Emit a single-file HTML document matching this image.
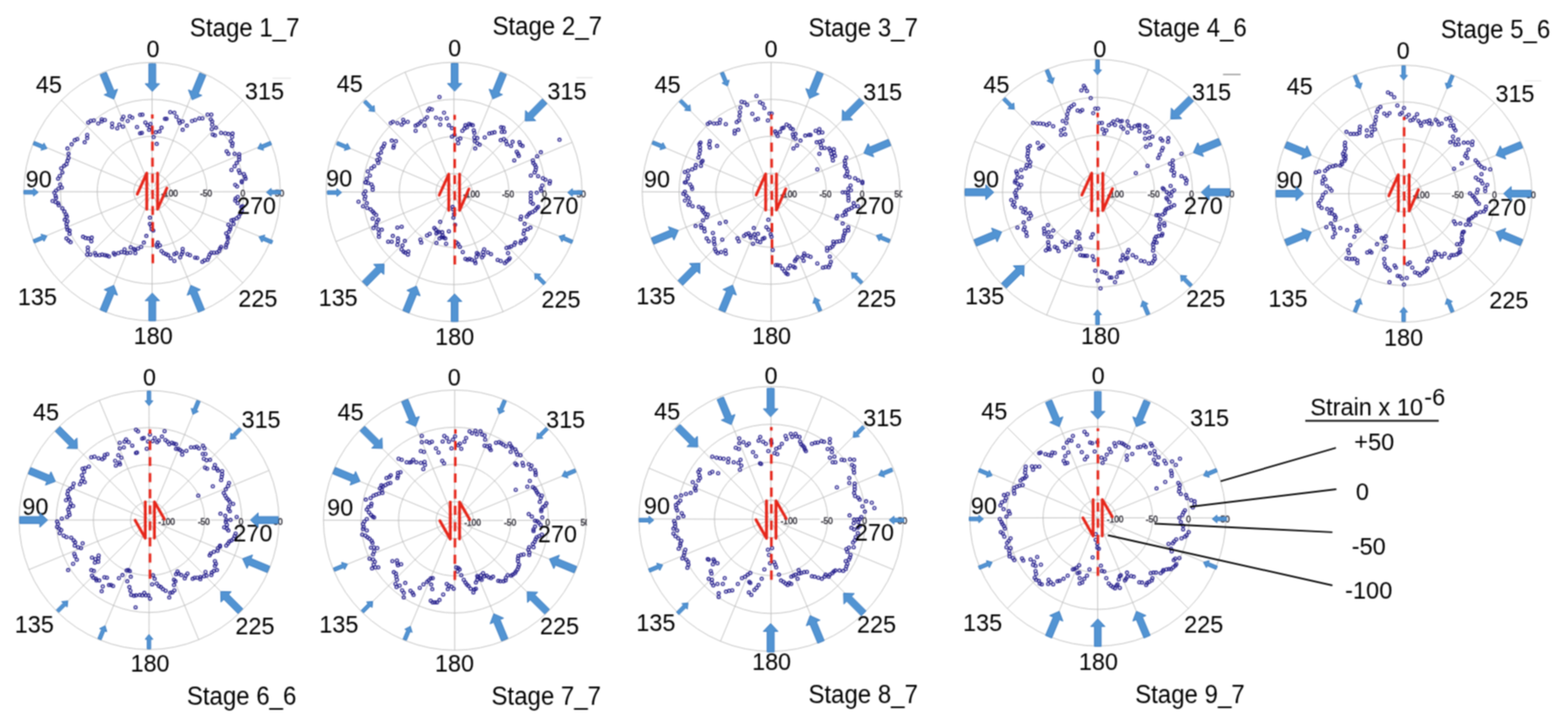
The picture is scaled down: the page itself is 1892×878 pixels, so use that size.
<!DOCTYPE html>
<html lang="en"><head><meta charset="utf-8"><title>Strain polar plots by stage</title>
<style>
html,body{margin:0;padding:0;background:#fff}
body{width:1892px;height:878px;overflow:hidden;font-family:"Liberation Sans", Arial, Helvetica, sans-serif}
svg{display:block;filter:url(#soft)}
</style></head><body>
<svg width="1892" height="878" viewBox="0 0 1892 878"><defs><filter id="soft" x="0" y="0" width="100%" height="100%" color-interpolation-filters="sRGB"><feConvolveMatrix order="3" kernelMatrix="1 2 1 2 4 2 1 2 1" divisor="16" edgeMode="duplicate" preserveAlpha="true"/></filter></defs><rect width="1892" height="878" fill="#fff"/><g id="plot1"><g fill="none" stroke="#bababa" stroke-width="0.9"><ellipse cx="183.5" cy="231.1" rx="22" ry="22.1"/><ellipse cx="183.5" cy="231.1" rx="66.2" ry="66.7"/><ellipse cx="183.5" cy="231.1" rx="110.5" ry="111.2"/><ellipse cx="183.5" cy="231.1" rx="154.7" ry="155.8"/><path d="M183.5 228.4L183.5 75.2M186.2 224.9L242.7 87.1M185.6 229.3L292.9 120.9M190 228.7L326.4 171.4M186.5 231.4L338.2 231.1M190 234.1L326.4 290.7M185.6 233.5L292.9 341.2M186.2 237.9L242.7 375M183.5 234.4L183.5 386.9M180.8 237.9L124.3 375M181.4 233.5L74.1 341.2M177 234.1L40.6 290.7M180.5 231.4L28.8 231.1M177 228.7L40.6 171.4M181.4 229.3L74.1 120.9M180.8 224.9L124.3 87.1"/><circle cx="183.5" cy="231.4" r="2" fill="#c4c4c4" stroke="none"/></g><g font-family='"Liberation Sans", Arial, Helvetica, sans-serif' font-size="10" fill="#1c1a24" stroke="#1c1a24" stroke-width="0.4" text-anchor="middle"><rect x="193.5" y="228.9" width="22" height="8" fill="#fff" stroke="none"/><text x="204.5" y="237">-100</text><rect x="240.5" y="228.9" width="16.5" height="8" fill="#fff" stroke="none"/><text x="248.7" y="237">-50</text><rect x="289" y="228.9" width="8" height="8" fill="#fff" stroke="none"/><text x="293" y="237">0</text><text x="337.2" y="237">50</text></g><g fill="none" stroke="#241e8c" stroke-width="1.3"><circle cx="70.1" cy="215.4" r="1.85"/><circle cx="72.1" cy="212.2" r="1.85"/><circle cx="75.2" cy="207.9" r="1.85"/><circle cx="73.9" cy="202.9" r="1.85"/><circle cx="77.4" cy="200.1" r="1.85"/><circle cx="80.2" cy="197.9" r="1.85"/><circle cx="81.4" cy="194.1" r="1.85"/><circle cx="82.7" cy="190.4" r="1.85"/><circle cx="82.7" cy="185.4" r="1.85"/><circle cx="81.4" cy="179.1" r="1.85"/><circle cx="86.4" cy="174.1" r="1.85"/><circle cx="90.2" cy="169.1" r="1.85"/><circle cx="93.2" cy="167.8" r="1.85"/><circle cx="102.2" cy="171.6" r="1.85"/><circle cx="105.2" cy="166.6" r="1.85"/><circle cx="105.2" cy="162.8" r="1.85"/><circle cx="106.5" cy="147.8" r="1.85"/><circle cx="109.5" cy="145.8" r="1.85"/><circle cx="113.2" cy="145.3" r="1.85"/><circle cx="118.5" cy="149" r="1.85"/><circle cx="122.7" cy="146.5" r="1.85"/><circle cx="122.7" cy="144" r="1.85"/><circle cx="126.5" cy="144.8" r="1.85"/><circle cx="135.3" cy="149" r="1.85"/><circle cx="135.3" cy="153.3" r="1.85"/><circle cx="141.5" cy="154.8" r="1.85"/><circle cx="144" cy="150.3" r="1.85"/><circle cx="148.3" cy="152.8" r="1.85"/><circle cx="147.3" cy="144" r="1.85"/><circle cx="149" cy="140.8" r="1.85"/><circle cx="154.1" cy="146" r="1.85"/><circle cx="156.6" cy="140.3" r="1.85"/><circle cx="159.6" cy="142" r="1.85"/><circle cx="165.3" cy="153.3" r="1.85"/><circle cx="169.1" cy="138.5" r="1.85"/><circle cx="171.8" cy="138.3" r="1.85"/><circle cx="169.1" cy="160.8" r="1.85"/><circle cx="171.1" cy="160.3" r="1.85"/><circle cx="175.4" cy="147.8" r="1.85"/><circle cx="177.9" cy="151.1" r="1.85"/><circle cx="181.6" cy="149.5" r="1.85"/><circle cx="180.9" cy="153.5" r="1.85"/><circle cx="179.9" cy="156.6" r="1.85"/><circle cx="185.4" cy="165.3" r="1.85"/><circle cx="189.1" cy="173.6" r="1.85"/><circle cx="187.9" cy="159.6" r="1.85"/><circle cx="192.4" cy="158.6" r="1.85"/><circle cx="194.9" cy="154.1" r="1.85"/><circle cx="199.1" cy="143.3" r="1.85"/><circle cx="200.9" cy="143.3" r="1.85"/><circle cx="205.4" cy="135.3" r="1.85"/><circle cx="210.4" cy="136" r="1.85"/><circle cx="212.9" cy="140.8" r="1.85"/><circle cx="215.9" cy="145.3" r="1.85"/><circle cx="216.9" cy="148.3" r="1.85"/><circle cx="220.4" cy="146.5" r="1.85"/><circle cx="225.5" cy="151.6" r="1.85"/><circle cx="220.4" cy="156.6" r="1.85"/><circle cx="231.7" cy="146" r="1.85"/><circle cx="235.5" cy="144.8" r="1.85"/><circle cx="240.5" cy="142.8" r="1.85"/><circle cx="244.2" cy="142.8" r="1.85"/><circle cx="250.5" cy="138.3" r="1.85"/><circle cx="255" cy="138.3" r="1.85"/><circle cx="254.3" cy="144" r="1.85"/><circle cx="256" cy="146.5" r="1.85"/><circle cx="256" cy="150.3" r="1.85"/><circle cx="260.5" cy="154.1" r="1.85"/><circle cx="255.5" cy="155.8" r="1.85"/><circle cx="256.8" cy="162.3" r="1.85"/><circle cx="259.3" cy="163.3" r="1.85"/><circle cx="266.8" cy="160.3" r="1.85"/><circle cx="271.8" cy="160.8" r="1.85"/><circle cx="275.6" cy="161.6" r="1.85"/><circle cx="280.6" cy="161.1" r="1.85"/><circle cx="280.1" cy="165.3" r="1.85"/><circle cx="278.6" cy="170.3" r="1.85"/><circle cx="280.6" cy="172.8" r="1.85"/><circle cx="280.1" cy="176.1" r="1.85"/><circle cx="273.5" cy="182.4" r="1.85"/><circle cx="275.6" cy="185.4" r="1.85"/><circle cx="283.1" cy="185.4" r="1.85"/><circle cx="288.6" cy="185.9" r="1.85"/><circle cx="288.6" cy="189.1" r="1.85"/><circle cx="288.6" cy="192.4" r="1.85"/><circle cx="285.6" cy="196.6" r="1.85"/><circle cx="283.1" cy="200.4" r="1.85"/><circle cx="279.3" cy="204.9" r="1.85"/><circle cx="288.1" cy="205.4" r="1.85"/><circle cx="289.3" cy="208.4" r="1.85"/><circle cx="294.3" cy="209.9" r="1.85"/><circle cx="295.6" cy="212.9" r="1.85"/><circle cx="296.3" cy="215.4" r="1.85"/><circle cx="291.8" cy="218.4" r="1.85"/><circle cx="72.6" cy="222.5" r="1.85"/><circle cx="74.6" cy="226.3" r="1.85"/><circle cx="70.6" cy="227.5" r="1.85"/><circle cx="67.6" cy="230" r="1.85"/><circle cx="65.6" cy="232.5" r="1.85"/><circle cx="67.1" cy="236.3" r="1.85"/><circle cx="67.6" cy="238.8" r="1.85"/><circle cx="63.4" cy="242.5" r="1.85"/><circle cx="67.2" cy="243.7" r="1.85"/><circle cx="70.1" cy="245.1" r="1.85"/><circle cx="70.9" cy="247.6" r="1.85"/><circle cx="75.2" cy="251.3" r="1.85"/><circle cx="77.7" cy="255.1" r="1.85"/><circle cx="79.7" cy="258.8" r="1.85"/><circle cx="80.7" cy="261.3" r="1.85"/><circle cx="78.2" cy="265.1" r="1.85"/><circle cx="81.4" cy="266.8" r="1.85"/><circle cx="80.2" cy="270.1" r="1.85"/><circle cx="80.7" cy="273.9" r="1.85"/><circle cx="81.4" cy="277.1" r="1.85"/><circle cx="83.9" cy="278.1" r="1.85"/><circle cx="83.9" cy="282.1" r="1.85"/><circle cx="80.2" cy="287.6" r="1.85"/><circle cx="82.7" cy="290.1" r="1.85"/><circle cx="85.2" cy="292.1" r="1.85"/><circle cx="100.2" cy="285.6" r="1.85"/><circle cx="103.2" cy="287.1" r="1.85"/><circle cx="106.5" cy="287.6" r="1.85"/><circle cx="110.7" cy="286.6" r="1.85"/><circle cx="110.2" cy="290.9" r="1.85"/><circle cx="106" cy="298.4" r="1.85"/><circle cx="106" cy="302.2" r="1.85"/><circle cx="105.2" cy="306.9" r="1.85"/><circle cx="109" cy="306.9" r="1.85"/><circle cx="114.7" cy="305.2" r="1.85"/><circle cx="115.7" cy="307.7" r="1.85"/><circle cx="120.2" cy="307.7" r="1.85"/><circle cx="123.2" cy="306.9" r="1.85"/><circle cx="126.5" cy="307.7" r="1.85"/><circle cx="129" cy="308.2" r="1.85"/><circle cx="131.5" cy="309.2" r="1.85"/><circle cx="137.3" cy="305.2" r="1.85"/><circle cx="138.5" cy="306.9" r="1.85"/><circle cx="142.8" cy="305.2" r="1.85"/><circle cx="146.5" cy="303.9" r="1.85"/><circle cx="150.3" cy="300.7" r="1.85"/><circle cx="150.3" cy="304.4" r="1.85"/><circle cx="153.3" cy="305.2" r="1.85"/><circle cx="157.3" cy="304.7" r="1.85"/><circle cx="157.8" cy="298.2" r="1.85"/><circle cx="161.6" cy="300.2" r="1.85"/><circle cx="163.3" cy="305.2" r="1.85"/><circle cx="162.8" cy="301.4" r="1.85"/><circle cx="166.6" cy="299.7" r="1.85"/><circle cx="170.3" cy="297.7" r="1.85"/><circle cx="173.6" cy="292.6" r="1.85"/><circle cx="176.6" cy="284.6" r="1.85"/><circle cx="180.9" cy="262.6" r="1.85"/><circle cx="180.9" cy="270.1" r="1.85"/><circle cx="182.4" cy="272.6" r="1.85"/><circle cx="182.9" cy="276.4" r="1.85"/><circle cx="184.9" cy="278.1" r="1.85"/><circle cx="190.4" cy="292.6" r="1.85"/><circle cx="189.1" cy="295.2" r="1.85"/><circle cx="192.9" cy="295.9" r="1.85"/><circle cx="189.9" cy="297.7" r="1.85"/><circle cx="194.9" cy="302.7" r="1.85"/><circle cx="197.4" cy="305.2" r="1.85"/><circle cx="200.4" cy="306.4" r="1.85"/><circle cx="202.9" cy="307.7" r="1.85"/><circle cx="205.9" cy="311.4" r="1.85"/><circle cx="210.4" cy="314.7" r="1.85"/><circle cx="210.4" cy="306.4" r="1.85"/><circle cx="212.9" cy="305.2" r="1.85"/><circle cx="217.4" cy="310.2" r="1.85"/><circle cx="219.2" cy="306.4" r="1.85"/><circle cx="220.4" cy="303.9" r="1.85"/><circle cx="220.4" cy="300.2" r="1.85"/><circle cx="226.2" cy="306.4" r="1.85"/><circle cx="229.2" cy="307.7" r="1.85"/><circle cx="235.5" cy="310.7" r="1.85"/><circle cx="238" cy="310.9" r="1.85"/><circle cx="244.2" cy="315.7" r="1.85"/><circle cx="246.7" cy="313.9" r="1.85"/><circle cx="250.5" cy="313.2" r="1.85"/><circle cx="251.8" cy="310.2" r="1.85"/><circle cx="253" cy="306.9" r="1.85"/><circle cx="255" cy="304.7" r="1.85"/><circle cx="258" cy="304.7" r="1.85"/><circle cx="261.8" cy="304.4" r="1.85"/><circle cx="264.3" cy="302.7" r="1.85"/><circle cx="265.5" cy="299.7" r="1.85"/><circle cx="266.8" cy="297.7" r="1.85"/><circle cx="272.5" cy="298.2" r="1.85"/><circle cx="273" cy="295.2" r="1.85"/><circle cx="274.3" cy="292.6" r="1.85"/><circle cx="275.1" cy="287.6" r="1.85"/><circle cx="274.8" cy="285.6" r="1.85"/><circle cx="273" cy="281.4" r="1.85"/><circle cx="276.1" cy="279.6" r="1.85"/><circle cx="277.6" cy="276.4" r="1.85"/><circle cx="275.6" cy="270.9" r="1.85"/><circle cx="278.1" cy="273.9" r="1.85"/><circle cx="281.8" cy="270.1" r="1.85"/><circle cx="279.3" cy="265.8" r="1.85"/><circle cx="281.8" cy="265.1" r="1.85"/><circle cx="285.6" cy="263.3" r="1.85"/><circle cx="288.1" cy="261.3" r="1.85"/><circle cx="290.1" cy="257.6" r="1.85"/><circle cx="291.8" cy="253.8" r="1.85"/><circle cx="291.1" cy="249.6" r="1.85"/><circle cx="292.6" cy="248.8" r="1.85"/><circle cx="286.8" cy="245.1" r="1.85"/><circle cx="283.8" cy="242" r="1.85"/><circle cx="284.3" cy="239.5" r="1.85"/><circle cx="286.8" cy="237.5" r="1.85"/><circle cx="283.8" cy="223" r="1.85"/><circle cx="286.1" cy="225" r="1.85"/><circle cx="291.8" cy="220" r="1.85"/></g><path d="M165.6 234.2L177.1 208.7L177.1 252.4M190.1 208.7L190.1 252.4L201.4 226.7" fill="none" stroke="#e6261a" stroke-width="3.4" stroke-linejoin="round" stroke-linecap="round"/><path d="M184.4 317.5L183.8 138" fill="none" stroke="#e6261a" stroke-width="3.1" stroke-dasharray="10.9 8.5"/><g font-family='"Liberation Sans", Arial, Helvetica, sans-serif' fill="#000" stroke="none" text-anchor="middle"><text transform="translate(295.2 43.8) scale(1 1.05)" font-size="29.0">Stage 1_7</text><text transform="translate(184.5 69.4) scale(1 1.06)" font-size="28.3">0</text><text transform="translate(59.1 111.5) scale(1 1.06)" font-size="28.3">45</text><text transform="translate(319.1 120.2) scale(1 1.06)" font-size="28.3">315</text><text transform="translate(46.7 225.5) scale(1 1.06)" font-size="28.3">90</text><text transform="translate(309.5 258) scale(1 1.06)" font-size="28.3">270</text><text transform="translate(45.1 367.8) scale(1 1.06)" font-size="28.3">135</text><text transform="translate(311.2 369.8) scale(1 1.06)" font-size="28.3">225</text><text transform="translate(184.9 414.9) scale(1 1.06)" font-size="28.3">180</text></g><g fill="#5294d3" stroke="#3a7bc0" stroke-width="1"><polygon points="248.4,91 239.2,113.3 243.5,115.1 231.9,120.3 227.4,108.4 231.7,110.2 240.9,87.9"/><polygon points="187.9,76.9 187.9,101 192.5,101 183.8,110.2 175.1,101 179.7,101 179.7,76.9"/><polygon points="128.3,87.1 137.5,109.4 141.8,107.6 137.3,119.5 125.7,114.3 130,112.5 120.8,90.2"/><polygon points="120.8,373.5 130,351.2 125.7,349.4 137.3,344.2 141.8,356.1 137.5,354.3 128.3,376.6"/><polygon points="179.7,386.9 179.7,362.7 175.1,362.7 183.8,353.5 192.5,362.7 187.9,362.7 187.9,386.9"/><polygon points="239.3,376.6 230.1,354.3 225.8,356.1 230.3,344.2 241.9,349.4 237.6,351.2 246.8,373.5"/><polygon points="41.5,170.6 52.1,175 53.1,172.6 56.6,179.1 49.5,181.2 50.5,178.9 39.9,174.5"/><polygon points="28.9,229.7 40.4,229.7 40.4,227.2 46.1,231.9 40.4,236.5 40.4,234 28.9,234"/><polygon points="39.9,289.2 50.5,284.8 49.5,282.5 56.6,284.6 53.1,291.1 52.1,288.7 41.5,293.1"/><polygon points="327.6,294.1 317,289.7 316,292.1 312.5,285.6 319.6,283.5 318.6,285.8 329.2,290.2"/><polygon points="338.7,234 327.2,234 327.2,236.5 321.5,231.9 327.2,227.2 327.2,229.7 338.7,229.7"/><polygon points="327.7,174.5 317.1,178.9 318.1,181.2 311,179.1 314.5,172.6 315.5,175 326.1,170.6"/></g></g><g id="plot2"><g fill="none" stroke="#bababa" stroke-width="0.9"><ellipse cx="547.9" cy="231.5" rx="21.9" ry="22.2"/><ellipse cx="547.9" cy="231.5" rx="66.1" ry="66.9"/><ellipse cx="547.9" cy="231.5" rx="110.2" ry="111.7"/><ellipse cx="547.9" cy="231.5" rx="154.4" ry="156.4"/><path d="M547.4 229.1L547.9 75.1M550.1 225.6L607 87M549.5 230L657.1 120.9M553.9 229.4L690.5 171.6M550.4 232.1L702.3 231.5M553.9 234.8L690.5 291.4M549.5 234.2L657.1 342.1M550.1 238.6L607 376M547.4 235.1L547.9 387.9M544.7 238.6L488.8 376M545.3 234.2L438.7 342.1M540.9 234.8L405.3 291.4M544.4 232.1L393.5 231.5M540.9 229.4L405.3 171.6M545.3 230L438.7 120.9M544.7 225.6L488.8 87"/><circle cx="547.4" cy="232.1" r="2" fill="#c4c4c4" stroke="none"/></g><g font-family='"Liberation Sans", Arial, Helvetica, sans-serif' font-size="10" fill="#1c1a24" stroke="#1c1a24" stroke-width="0.4" text-anchor="middle"><rect x="557.8" y="229.6" width="22" height="8" fill="#fff" stroke="none"/><text x="568.8" y="237.7">-100</text><rect x="604.7" y="229.6" width="16.5" height="8" fill="#fff" stroke="none"/><text x="613" y="237.7">-50</text><rect x="653.1" y="229.6" width="8" height="8" fill="#fff" stroke="none"/><text x="657.1" y="237.7">0</text><text x="701.3" y="237.7">50</text></g><g fill="none" stroke="#241e8c" stroke-width="1.3"><circle cx="440.9" cy="219.9" r="1.85"/><circle cx="442.6" cy="215.4" r="1.85"/><circle cx="446.4" cy="211.7" r="1.85"/><circle cx="443.9" cy="206.7" r="1.85"/><circle cx="448.2" cy="202.9" r="1.85"/><circle cx="451.4" cy="200.4" r="1.85"/><circle cx="456.4" cy="196.6" r="1.85"/><circle cx="455.2" cy="192.9" r="1.85"/><circle cx="458.2" cy="191.6" r="1.85"/><circle cx="456.4" cy="186.6" r="1.85"/><circle cx="459.7" cy="184.1" r="1.85"/><circle cx="460.7" cy="179.1" r="1.85"/><circle cx="462.7" cy="176.6" r="1.85"/><circle cx="463.9" cy="173.3" r="1.85"/><circle cx="472.7" cy="169.6" r="1.85"/><circle cx="477.7" cy="170.3" r="1.85"/><circle cx="475.2" cy="175.4" r="1.85"/><circle cx="474.7" cy="177.9" r="1.85"/><circle cx="471.5" cy="148.5" r="1.85"/><circle cx="474" cy="147" r="1.85"/><circle cx="479.5" cy="148.5" r="1.85"/><circle cx="484.7" cy="150.3" r="1.85"/><circle cx="487.2" cy="147.8" r="1.85"/><circle cx="486.5" cy="144.5" r="1.85"/><circle cx="492" cy="147" r="1.85"/><circle cx="501.5" cy="151.6" r="1.85"/><circle cx="504" cy="150.3" r="1.85"/><circle cx="506.5" cy="148.5" r="1.85"/><circle cx="508.3" cy="146.5" r="1.85"/><circle cx="501.5" cy="157.8" r="1.85"/><circle cx="512.3" cy="151.6" r="1.85"/><circle cx="512.8" cy="144" r="1.85"/><circle cx="515.3" cy="141.5" r="1.85"/><circle cx="516.5" cy="133.5" r="1.85"/><circle cx="518.3" cy="131" r="1.85"/><circle cx="521.1" cy="132" r="1.85"/><circle cx="530.3" cy="117" r="1.85"/><circle cx="526.1" cy="142" r="1.85"/><circle cx="531.6" cy="143.5" r="1.85"/><circle cx="531.1" cy="150.3" r="1.85"/><circle cx="535.8" cy="136" r="1.85"/><circle cx="539.1" cy="142.8" r="1.85"/><circle cx="541.6" cy="151.1" r="1.85"/><circle cx="545.4" cy="154.6" r="1.85"/><circle cx="545.4" cy="164.8" r="1.85"/><circle cx="548.4" cy="162.8" r="1.85"/><circle cx="552.1" cy="168.3" r="1.85"/><circle cx="555.4" cy="167.1" r="1.85"/><circle cx="552.9" cy="172.8" r="1.85"/><circle cx="557.9" cy="157.8" r="1.85"/><circle cx="560.4" cy="155.1" r="1.85"/><circle cx="561.6" cy="151.1" r="1.85"/><circle cx="563.4" cy="153.6" r="1.85"/><circle cx="565.9" cy="149.5" r="1.85"/><circle cx="567.9" cy="150.3" r="1.85"/><circle cx="570.4" cy="151.1" r="1.85"/><circle cx="571.7" cy="157.3" r="1.85"/><circle cx="572.4" cy="160.3" r="1.85"/><circle cx="572.4" cy="165.8" r="1.85"/><circle cx="575.9" cy="166.6" r="1.85"/><circle cx="572.9" cy="170.3" r="1.85"/><circle cx="575.9" cy="172.8" r="1.85"/><circle cx="578.7" cy="174.6" r="1.85"/><circle cx="573.4" cy="179.1" r="1.85"/><circle cx="584.9" cy="165.8" r="1.85"/><circle cx="590.4" cy="161.1" r="1.85"/><circle cx="593.7" cy="160.3" r="1.85"/><circle cx="596.7" cy="159.6" r="1.85"/><circle cx="604.7" cy="153.6" r="1.85"/><circle cx="607.5" cy="154.1" r="1.85"/><circle cx="605.5" cy="159.1" r="1.85"/><circle cx="608.7" cy="159.1" r="1.85"/><circle cx="604.2" cy="169.1" r="1.85"/><circle cx="608" cy="167.8" r="1.85"/><circle cx="610.5" cy="170.3" r="1.85"/><circle cx="611.7" cy="174.1" r="1.85"/><circle cx="616.7" cy="176.1" r="1.85"/><circle cx="618.5" cy="171.1" r="1.85"/><circle cx="626.8" cy="171.6" r="1.85"/><circle cx="628" cy="174.6" r="1.85"/><circle cx="630.5" cy="176.1" r="1.85"/><circle cx="623.5" cy="182.9" r="1.85"/><circle cx="625" cy="185.4" r="1.85"/><circle cx="626" cy="187.9" r="1.85"/><circle cx="620.5" cy="193.4" r="1.85"/><circle cx="652.6" cy="183.6" r="1.85"/><circle cx="648.1" cy="188.4" r="1.85"/><circle cx="643" cy="193.4" r="1.85"/><circle cx="643.5" cy="196.6" r="1.85"/><circle cx="645.6" cy="199.1" r="1.85"/><circle cx="646.8" cy="201.7" r="1.85"/><circle cx="646.3" cy="204.9" r="1.85"/><circle cx="645.1" cy="207.9" r="1.85"/><circle cx="640.5" cy="211.7" r="1.85"/><circle cx="649.3" cy="212.4" r="1.85"/><circle cx="655.1" cy="214.9" r="1.85"/><circle cx="658.1" cy="216.7" r="1.85"/><circle cx="663.6" cy="218.4" r="1.85"/><circle cx="675.1" cy="168.6" r="1.85"/><circle cx="441.4" cy="220" r="1.85"/><circle cx="444.2" cy="220.7" r="1.85"/><circle cx="448.2" cy="222.5" r="1.85"/><circle cx="449.7" cy="225.5" r="1.85"/><circle cx="449.7" cy="228.8" r="1.85"/><circle cx="440.9" cy="230.8" r="1.85"/><circle cx="438.9" cy="233.8" r="1.85"/><circle cx="440.9" cy="237" r="1.85"/><circle cx="440.1" cy="240" r="1.85"/><circle cx="432.6" cy="243.3" r="1.85"/><circle cx="442.6" cy="245.1" r="1.85"/><circle cx="438.1" cy="248.8" r="1.85"/><circle cx="443.1" cy="250.8" r="1.85"/><circle cx="447.2" cy="252.6" r="1.85"/><circle cx="449.7" cy="255.1" r="1.85"/><circle cx="451.4" cy="257.1" r="1.85"/><circle cx="453.9" cy="259.3" r="1.85"/><circle cx="449.7" cy="263.8" r="1.85"/><circle cx="456.4" cy="265.1" r="1.85"/><circle cx="454.7" cy="267.6" r="1.85"/><circle cx="453.9" cy="271.4" r="1.85"/><circle cx="450.7" cy="275.1" r="1.85"/><circle cx="456.4" cy="276.4" r="1.85"/><circle cx="457.2" cy="281.4" r="1.85"/><circle cx="457.2" cy="285.6" r="1.85"/><circle cx="460.7" cy="277.1" r="1.85"/><circle cx="479.5" cy="274.4" r="1.85"/><circle cx="484.7" cy="273.4" r="1.85"/><circle cx="474" cy="284.6" r="1.85"/><circle cx="468.4" cy="291.4" r="1.85"/><circle cx="472.7" cy="291.4" r="1.85"/><circle cx="480.2" cy="287.6" r="1.85"/><circle cx="480.2" cy="290.9" r="1.85"/><circle cx="479.5" cy="295.2" r="1.85"/><circle cx="488.5" cy="290.6" r="1.85"/><circle cx="485.7" cy="295.9" r="1.85"/><circle cx="484.5" cy="300.7" r="1.85"/><circle cx="487" cy="303.4" r="1.85"/><circle cx="489" cy="304.7" r="1.85"/><circle cx="492.7" cy="303.2" r="1.85"/><circle cx="492.2" cy="306.9" r="1.85"/><circle cx="507.3" cy="288.9" r="1.85"/><circle cx="508.3" cy="292.6" r="1.85"/><circle cx="515.3" cy="283.9" r="1.85"/><circle cx="518.5" cy="281.9" r="1.85"/><circle cx="531.1" cy="267.6" r="1.85"/><circle cx="524.1" cy="275.1" r="1.85"/><circle cx="525.8" cy="277.1" r="1.85"/><circle cx="528.3" cy="279.4" r="1.85"/><circle cx="526.6" cy="281.4" r="1.85"/><circle cx="530.3" cy="280.1" r="1.85"/><circle cx="533.6" cy="280.1" r="1.85"/><circle cx="534.1" cy="283.9" r="1.85"/><circle cx="532.8" cy="285.9" r="1.85"/><circle cx="530.3" cy="287.6" r="1.85"/><circle cx="535.3" cy="286.4" r="1.85"/><circle cx="537.3" cy="287.6" r="1.85"/><circle cx="526.6" cy="293.1" r="1.85"/><circle cx="541.6" cy="278.9" r="1.85"/><circle cx="538.3" cy="293.9" r="1.85"/><circle cx="546.1" cy="249.6" r="1.85"/><circle cx="546.6" cy="252.6" r="1.85"/><circle cx="547.9" cy="258.1" r="1.85"/><circle cx="547.1" cy="262.6" r="1.85"/><circle cx="549.1" cy="270.9" r="1.85"/><circle cx="550.9" cy="292.6" r="1.85"/><circle cx="552.9" cy="294.6" r="1.85"/><circle cx="554.9" cy="297.7" r="1.85"/><circle cx="558.4" cy="303.9" r="1.85"/><circle cx="561.6" cy="312.2" r="1.85"/><circle cx="564.1" cy="313.2" r="1.85"/><circle cx="566.6" cy="312.2" r="1.85"/><circle cx="569.1" cy="313.2" r="1.85"/><circle cx="572.9" cy="314.7" r="1.85"/><circle cx="573.7" cy="317.2" r="1.85"/><circle cx="575.4" cy="305.2" r="1.85"/><circle cx="577.2" cy="306.4" r="1.85"/><circle cx="574.9" cy="309.7" r="1.85"/><circle cx="584.2" cy="300.7" r="1.85"/><circle cx="582.9" cy="303.9" r="1.85"/><circle cx="583.4" cy="307.7" r="1.85"/><circle cx="581.7" cy="310.2" r="1.85"/><circle cx="588.7" cy="304.4" r="1.85"/><circle cx="592.4" cy="306.4" r="1.85"/><circle cx="600.5" cy="313.4" r="1.85"/><circle cx="604.2" cy="314.7" r="1.85"/><circle cx="609.2" cy="317.2" r="1.85"/><circle cx="611.2" cy="315.2" r="1.85"/><circle cx="613.7" cy="313.2" r="1.85"/><circle cx="615" cy="311.4" r="1.85"/><circle cx="613" cy="305.2" r="1.85"/><circle cx="611.2" cy="298.9" r="1.85"/><circle cx="614.2" cy="298.2" r="1.85"/><circle cx="616.7" cy="297.2" r="1.85"/><circle cx="620.5" cy="295.2" r="1.85"/><circle cx="621.8" cy="292.6" r="1.85"/><circle cx="628" cy="293.1" r="1.85"/><circle cx="628.8" cy="290.6" r="1.85"/><circle cx="632.5" cy="289.6" r="1.85"/><circle cx="634.3" cy="287.6" r="1.85"/><circle cx="631.8" cy="281.9" r="1.85"/><circle cx="632.5" cy="278.1" r="1.85"/><circle cx="636.8" cy="276.4" r="1.85"/><circle cx="640" cy="274.6" r="1.85"/><circle cx="633" cy="270.1" r="1.85"/><circle cx="628" cy="264.6" r="1.85"/><circle cx="628.8" cy="261.3" r="1.85"/><circle cx="635.5" cy="261.3" r="1.85"/><circle cx="637.5" cy="258.8" r="1.85"/><circle cx="639.3" cy="257.1" r="1.85"/><circle cx="642.5" cy="255.8" r="1.85"/><circle cx="645.6" cy="253.8" r="1.85"/><circle cx="647.6" cy="251.3" r="1.85"/><circle cx="649.3" cy="249.6" r="1.85"/><circle cx="643" cy="245.8" r="1.85"/><circle cx="640.5" cy="243.8" r="1.85"/><circle cx="640.5" cy="240" r="1.85"/><circle cx="640.5" cy="236.3" r="1.85"/><circle cx="640.5" cy="232.5" r="1.85"/><circle cx="647.6" cy="232.5" r="1.85"/><circle cx="653.1" cy="230" r="1.85"/><circle cx="652.6" cy="227.5" r="1.85"/><circle cx="654.3" cy="223.8" r="1.85"/><circle cx="663.1" cy="221.3" r="1.85"/></g><path d="M530 235.4L541.5 210L541.5 253.7M554.5 210L554.5 253.7L565.8 227.9" fill="none" stroke="#e6261a" stroke-width="3.4" stroke-linejoin="round" stroke-linecap="round"/><path d="M548.8 319.1L548.6 138.5" fill="none" stroke="#e6261a" stroke-width="3.1" stroke-dasharray="10.9 8.5"/><g font-family='"Liberation Sans", Arial, Helvetica, sans-serif' fill="#000" stroke="none" text-anchor="middle"><text transform="translate(660.3 42) scale(1 1.05)" font-size="29.0">Stage 2_7</text><text transform="translate(548.7 68.1) scale(1 1.06)" font-size="28.3">0</text><text transform="translate(422 110.7) scale(1 1.06)" font-size="28.3">45</text><text transform="translate(684.1 119.7) scale(1 1.06)" font-size="28.3">315</text><text transform="translate(409.2 225) scale(1 1.06)" font-size="28.3">90</text><text transform="translate(674.4 258) scale(1 1.06)" font-size="28.3">270</text><text transform="translate(408 369) scale(1 1.06)" font-size="28.3">135</text><text transform="translate(676.9 371) scale(1 1.06)" font-size="28.3">225</text><text transform="translate(548.7 415.9) scale(1 1.06)" font-size="28.3">180</text></g><g fill="#5294d3" stroke="#3a7bc0" stroke-width="1"><polygon points="660.1,125 643.1,142.2 646.4,145.5 633.8,145.9 634.1,133.3 637.4,136.5 654.3,119.3"/><polygon points="611.1,90 602,112.3 606.3,114.1 594.7,119.3 590.2,107.5 594.5,109.3 603.6,86.9"/><polygon points="552.7,76.6 552.7,100.8 557.3,100.8 548.6,110 539.9,100.8 544.5,100.8 544.5,76.6"/><polygon points="437.1,339.4 454.1,322.2 450.8,318.9 463.4,318.5 463.1,331.1 459.8,327.9 442.9,345.1"/><polygon points="486.1,374.4 495.2,352.1 490.9,350.3 502.5,345.1 507,356.9 502.7,355.1 493.6,377.5"/><polygon points="544.5,387.8 544.5,363.6 539.9,363.6 548.6,354.4 557.3,363.6 552.7,363.6 552.7,387.8"/><polygon points="441.5,120.7 449.6,128.9 451.4,127.1 452.1,134.4 444.8,133.7 446.6,131.9 438.5,123.7"/><polygon points="407.5,170.7 418.1,175.2 419.1,172.8 422.6,179.3 415.5,181.4 416.5,179.1 405.9,174.6"/><polygon points="395,230.1 406.5,230.1 406.5,227.5 412.2,232.2 406.5,236.9 406.5,234.3 395,234.3"/><polygon points="655.7,343.7 647.6,335.5 645.8,337.3 645.1,330 652.4,330.7 650.6,332.5 658.7,340.7"/><polygon points="689.7,293.7 679.1,289.2 678.1,291.6 674.6,285.1 681.7,283 680.7,285.3 691.3,289.8"/><polygon points="702.2,234.3 690.7,234.3 690.7,236.9 685,232.2 690.7,227.5 690.7,230.1 702.2,230.1"/></g></g><g id="plot3"><g fill="none" stroke="#bababa" stroke-width="0.9"><ellipse cx="930.4" cy="231.3" rx="22.1" ry="22.2"/><ellipse cx="930.4" cy="231.3" rx="66.6" ry="66.9"/><ellipse cx="930.4" cy="231.3" rx="111" ry="111.5"/><ellipse cx="930.4" cy="231.3" rx="155.5" ry="156.2"/><path d="M930 229L930.4 75.1M932.7 225.5L989.9 87M932.1 229.9L1040.4 120.8M936.5 229.3L1074.1 171.5M933 232L1085.9 231.3M936.5 234.7L1074.1 291.1M932.1 234.1L1040.4 341.8M932.7 238.5L989.9 375.6M930 235L930.4 387.5M927.3 238.5L870.9 375.6M927.9 234.1L820.4 341.8M923.5 234.7L786.7 291.1M927 232L774.9 231.3M923.5 229.3L786.7 171.5M927.9 229.9L820.4 120.8M927.3 225.5L870.9 87"/><circle cx="930" cy="232" r="2" fill="#c4c4c4" stroke="none"/></g><g font-family='"Liberation Sans", Arial, Helvetica, sans-serif' font-size="10" fill="#1c1a24" stroke="#1c1a24" stroke-width="0.4" text-anchor="middle"><rect x="940.5" y="229.5" width="22" height="8" fill="#fff" stroke="none"/><text x="951.5" y="237.6">-100</text><rect x="987.7" y="229.5" width="16.5" height="8" fill="#fff" stroke="none"/><text x="996" y="237.6">-50</text><rect x="1036.4" y="229.5" width="8" height="8" fill="#fff" stroke="none"/><text x="1040.4" y="237.6">0</text><text x="1084.9" y="237.6">50</text><rect x="1088.7" y="224" width="14" height="16" fill="#fff" stroke="none"/></g><g fill="none" stroke="#241e8c" stroke-width="1.3"><circle cx="826.4" cy="219.9" r="1.85"/><circle cx="829.7" cy="215.4" r="1.85"/><circle cx="830.7" cy="211.7" r="1.85"/><circle cx="826.4" cy="207.4" r="1.85"/><circle cx="830.2" cy="205.9" r="1.85"/><circle cx="835.2" cy="204.2" r="1.85"/><circle cx="838.9" cy="202.4" r="1.85"/><circle cx="839.7" cy="199.1" r="1.85"/><circle cx="845.7" cy="199.9" r="1.85"/><circle cx="846.4" cy="195.4" r="1.85"/><circle cx="847.7" cy="194.1" r="1.85"/><circle cx="842.7" cy="189.9" r="1.85"/><circle cx="843.9" cy="185.4" r="1.85"/><circle cx="844.7" cy="181.6" r="1.85"/><circle cx="844.7" cy="177.4" r="1.85"/><circle cx="843.9" cy="174.1" r="1.85"/><circle cx="845.2" cy="172.1" r="1.85"/><circle cx="856.5" cy="170.3" r="1.85"/><circle cx="855.7" cy="174.1" r="1.85"/><circle cx="856.5" cy="177.9" r="1.85"/><circle cx="865.2" cy="176.1" r="1.85"/><circle cx="854" cy="149.5" r="1.85"/><circle cx="856.5" cy="147.8" r="1.85"/><circle cx="861.5" cy="149" r="1.85"/><circle cx="865.2" cy="149" r="1.85"/><circle cx="868.2" cy="148.3" r="1.85"/><circle cx="869" cy="144.5" r="1.85"/><circle cx="875.8" cy="149.8" r="1.85"/><circle cx="886.5" cy="161.1" r="1.85"/><circle cx="886.5" cy="157.8" r="1.85"/><circle cx="890.8" cy="156.6" r="1.85"/><circle cx="889" cy="147.3" r="1.85"/><circle cx="891.5" cy="145.3" r="1.85"/><circle cx="892.3" cy="139.8" r="1.85"/><circle cx="892.8" cy="135.3" r="1.85"/><circle cx="893.5" cy="129.8" r="1.85"/><circle cx="894.8" cy="122.7" r="1.85"/><circle cx="898.3" cy="123.5" r="1.85"/><circle cx="901.6" cy="126.5" r="1.85"/><circle cx="912.8" cy="115.7" r="1.85"/><circle cx="907.8" cy="137.3" r="1.85"/><circle cx="911.6" cy="144.5" r="1.85"/><circle cx="914.6" cy="143.3" r="1.85"/><circle cx="917.1" cy="123.5" r="1.85"/><circle cx="920.3" cy="125.3" r="1.85"/><circle cx="922.3" cy="130.3" r="1.85"/><circle cx="926.6" cy="145.3" r="1.85"/><circle cx="928.4" cy="137" r="1.85"/><circle cx="931.1" cy="137" r="1.85"/><circle cx="935.4" cy="158.6" r="1.85"/><circle cx="936.6" cy="161.1" r="1.85"/><circle cx="938.4" cy="164.1" r="1.85"/><circle cx="941.1" cy="159.1" r="1.85"/><circle cx="943.6" cy="154.8" r="1.85"/><circle cx="945.4" cy="154.1" r="1.85"/><circle cx="949.1" cy="150.3" r="1.85"/><circle cx="952.4" cy="152.1" r="1.85"/><circle cx="954.2" cy="154.8" r="1.85"/><circle cx="956.7" cy="156.1" r="1.85"/><circle cx="956.7" cy="162.1" r="1.85"/><circle cx="959.9" cy="161.6" r="1.85"/><circle cx="957.4" cy="165.3" r="1.85"/><circle cx="959.9" cy="167.3" r="1.85"/><circle cx="965.9" cy="169.6" r="1.85"/><circle cx="961.7" cy="175.4" r="1.85"/><circle cx="957.4" cy="179.1" r="1.85"/><circle cx="971.7" cy="163.6" r="1.85"/><circle cx="976.2" cy="162.8" r="1.85"/><circle cx="978" cy="162.8" r="1.85"/><circle cx="984.2" cy="157.8" r="1.85"/><circle cx="988.7" cy="155.8" r="1.85"/><circle cx="988" cy="160.3" r="1.85"/><circle cx="992.2" cy="159.8" r="1.85"/><circle cx="985.5" cy="171.6" r="1.85"/><circle cx="989.2" cy="171.1" r="1.85"/><circle cx="992.5" cy="169.8" r="1.85"/><circle cx="990.5" cy="174.8" r="1.85"/><circle cx="991" cy="178.4" r="1.85"/><circle cx="995" cy="178.4" r="1.85"/><circle cx="988.7" cy="185.4" r="1.85"/><circle cx="1000.5" cy="179.1" r="1.85"/><circle cx="1001.8" cy="181.6" r="1.85"/><circle cx="1003" cy="185.4" r="1.85"/><circle cx="1006" cy="179.9" r="1.85"/><circle cx="1006.4" cy="183.9" r="1.85"/><circle cx="1007.5" cy="187.9" r="1.85"/><circle cx="1004.3" cy="189.6" r="1.85"/><circle cx="1005" cy="193.4" r="1.85"/><circle cx="986.2" cy="204.2" r="1.85"/><circle cx="1021" cy="189.9" r="1.85"/><circle cx="1019.3" cy="194.1" r="1.85"/><circle cx="1020" cy="197.4" r="1.85"/><circle cx="1019.3" cy="200.4" r="1.85"/><circle cx="1021.3" cy="202.9" r="1.85"/><circle cx="1022.5" cy="206.7" r="1.85"/><circle cx="1021.8" cy="209.9" r="1.85"/><circle cx="1020" cy="212.4" r="1.85"/><circle cx="1025.1" cy="213.7" r="1.85"/><circle cx="1031.8" cy="214.9" r="1.85"/><circle cx="1035.6" cy="217.4" r="1.85"/><circle cx="1040.6" cy="219.2" r="1.85"/><circle cx="827.7" cy="220" r="1.85"/><circle cx="832.7" cy="222.5" r="1.85"/><circle cx="834.7" cy="225.5" r="1.85"/><circle cx="835.2" cy="228" r="1.85"/><circle cx="826.4" cy="231.3" r="1.85"/><circle cx="824.6" cy="233.8" r="1.85"/><circle cx="828.2" cy="236.3" r="1.85"/><circle cx="830.7" cy="238.8" r="1.85"/><circle cx="826.4" cy="242" r="1.85"/><circle cx="832.2" cy="243.8" r="1.85"/><circle cx="830.7" cy="247.1" r="1.85"/><circle cx="835.7" cy="248.8" r="1.85"/><circle cx="843.2" cy="249.6" r="1.85"/><circle cx="848.2" cy="250.8" r="1.85"/><circle cx="847.2" cy="253.3" r="1.85"/><circle cx="848.9" cy="255.8" r="1.85"/><circle cx="851" cy="258.1" r="1.85"/><circle cx="854" cy="258.8" r="1.85"/><circle cx="852.7" cy="262.1" r="1.85"/><circle cx="848.2" cy="265.8" r="1.85"/><circle cx="839.4" cy="272.6" r="1.85"/><circle cx="845.7" cy="271.4" r="1.85"/><circle cx="846.4" cy="274.6" r="1.85"/><circle cx="849.7" cy="275.6" r="1.85"/><circle cx="850.2" cy="278.9" r="1.85"/><circle cx="868.5" cy="269.3" r="1.85"/><circle cx="875.8" cy="267.6" r="1.85"/><circle cx="860.2" cy="280.9" r="1.85"/><circle cx="852.7" cy="287.6" r="1.85"/><circle cx="855.2" cy="290.9" r="1.85"/><circle cx="861.5" cy="287.6" r="1.85"/><circle cx="861.5" cy="291.4" r="1.85"/><circle cx="862.2" cy="294.4" r="1.85"/><circle cx="871.5" cy="288.9" r="1.85"/><circle cx="862.7" cy="300.2" r="1.85"/><circle cx="864" cy="303.2" r="1.85"/><circle cx="866" cy="305.2" r="1.85"/><circle cx="870.2" cy="303.9" r="1.85"/><circle cx="875.3" cy="301.9" r="1.85"/><circle cx="875.8" cy="305.9" r="1.85"/><circle cx="889.8" cy="287.6" r="1.85"/><circle cx="891.5" cy="290.9" r="1.85"/><circle cx="897.8" cy="284.4" r="1.85"/><circle cx="900.3" cy="282.6" r="1.85"/><circle cx="903.3" cy="281.4" r="1.85"/><circle cx="905.3" cy="283.9" r="1.85"/><circle cx="905.8" cy="286.4" r="1.85"/><circle cx="910.3" cy="282.6" r="1.85"/><circle cx="914.6" cy="282.1" r="1.85"/><circle cx="911.6" cy="287.1" r="1.85"/><circle cx="914.1" cy="290.9" r="1.85"/><circle cx="917.3" cy="291.9" r="1.85"/><circle cx="920.3" cy="288.1" r="1.85"/><circle cx="922.3" cy="287.1" r="1.85"/><circle cx="908.6" cy="293.9" r="1.85"/><circle cx="909.6" cy="275.1" r="1.85"/><circle cx="927.1" cy="265.1" r="1.85"/><circle cx="924.8" cy="273.9" r="1.85"/><circle cx="927.4" cy="277.1" r="1.85"/><circle cx="929.9" cy="282.6" r="1.85"/><circle cx="930.9" cy="285.6" r="1.85"/><circle cx="932.4" cy="301.4" r="1.85"/><circle cx="936.1" cy="319.7" r="1.85"/><circle cx="938.4" cy="319.7" r="1.85"/><circle cx="941.1" cy="320.2" r="1.85"/><circle cx="944.1" cy="324" r="1.85"/><circle cx="946.6" cy="327" r="1.85"/><circle cx="948.6" cy="329.5" r="1.85"/><circle cx="950.4" cy="330.7" r="1.85"/><circle cx="951.2" cy="323.5" r="1.85"/><circle cx="953.4" cy="320.2" r="1.85"/><circle cx="957.4" cy="321.5" r="1.85"/><circle cx="959.2" cy="322.7" r="1.85"/><circle cx="959.2" cy="314.7" r="1.85"/><circle cx="960.4" cy="312.7" r="1.85"/><circle cx="962.4" cy="310.2" r="1.85"/><circle cx="967.9" cy="310.7" r="1.85"/><circle cx="969.7" cy="314.4" r="1.85"/><circle cx="970.4" cy="305.7" r="1.85"/><circle cx="969.9" cy="308.4" r="1.85"/><circle cx="974.9" cy="308.4" r="1.85"/><circle cx="978" cy="309.7" r="1.85"/><circle cx="986.2" cy="317.7" r="1.85"/><circle cx="993" cy="322.7" r="1.85"/><circle cx="996.2" cy="322" r="1.85"/><circle cx="1000" cy="322.2" r="1.85"/><circle cx="1001.3" cy="319.4" r="1.85"/><circle cx="1002.5" cy="315.7" r="1.85"/><circle cx="1001.3" cy="309.4" r="1.85"/><circle cx="998" cy="302.2" r="1.85"/><circle cx="998" cy="298.9" r="1.85"/><circle cx="1001.8" cy="298.9" r="1.85"/><circle cx="1004.3" cy="297.2" r="1.85"/><circle cx="1006" cy="294.4" r="1.85"/><circle cx="1005.5" cy="291.4" r="1.85"/><circle cx="1009.8" cy="291.4" r="1.85"/><circle cx="1013" cy="290.9" r="1.85"/><circle cx="1016.8" cy="290.1" r="1.85"/><circle cx="1017.5" cy="287.1" r="1.85"/><circle cx="1018" cy="283.9" r="1.85"/><circle cx="1019.3" cy="281.4" r="1.85"/><circle cx="1019.3" cy="278.1" r="1.85"/><circle cx="1023.5" cy="278.1" r="1.85"/><circle cx="1023.5" cy="273.9" r="1.85"/><circle cx="1016.8" cy="269.6" r="1.85"/><circle cx="1009.3" cy="263.3" r="1.85"/><circle cx="1010.5" cy="260.6" r="1.85"/><circle cx="1016.8" cy="260.1" r="1.85"/><circle cx="1020.5" cy="258.8" r="1.85"/><circle cx="1019.3" cy="255.8" r="1.85"/><circle cx="1021.3" cy="253.8" r="1.85"/><circle cx="1024.3" cy="252.6" r="1.85"/><circle cx="1027.6" cy="250.8" r="1.85"/><circle cx="1030.6" cy="248.8" r="1.85"/><circle cx="1035.1" cy="248.8" r="1.85"/><circle cx="1030.1" cy="245.1" r="1.85"/><circle cx="1023.8" cy="242" r="1.85"/><circle cx="1023.8" cy="238.8" r="1.85"/><circle cx="1023.5" cy="235.5" r="1.85"/><circle cx="1023" cy="232.5" r="1.85"/><circle cx="1016.8" cy="232" r="1.85"/><circle cx="1020" cy="232" r="1.85"/><circle cx="1026.8" cy="229.5" r="1.85"/><circle cx="1023.8" cy="227.5" r="1.85"/><circle cx="1026.3" cy="223.8" r="1.85"/><circle cx="1040.6" cy="220.8" r="1.85"/></g><path d="M912.4 235.2L923.9 209.8L923.9 253.4M936.9 209.8L936.9 253.4L948.2 227.7" fill="none" stroke="#e6261a" stroke-width="3.4" stroke-linejoin="round" stroke-linecap="round"/><path d="M931.7 318.7L930.8 137.8" fill="none" stroke="#e6261a" stroke-width="3.1" stroke-dasharray="10.9 8.5"/><g font-family='"Liberation Sans", Arial, Helvetica, sans-serif' fill="#000" stroke="none" text-anchor="middle"><text transform="translate(1041.5 43.8) scale(1 1.05)" font-size="29.0">Stage 3_7</text><text transform="translate(930.4 69.4) scale(1 1.06)" font-size="28.3">0</text><text transform="translate(805.5 112) scale(1 1.06)" font-size="28.3">45</text><text transform="translate(1065 121) scale(1 1.06)" font-size="28.3">315</text><text transform="translate(792.8 225.5) scale(1 1.06)" font-size="28.3">90</text><text transform="translate(1055.2 258) scale(1 1.06)" font-size="28.3">270</text><text transform="translate(791.3 367) scale(1 1.06)" font-size="28.3">135</text><text transform="translate(1057.7 369.8) scale(1 1.06)" font-size="28.3">225</text><text transform="translate(931 414.6) scale(1 1.06)" font-size="28.3">180</text></g><g fill="#5294d3" stroke="#3a7bc0" stroke-width="1"><polygon points="1074.9,175.6 1052.5,184.9 1054.3,189.2 1042.4,184.7 1047.6,173.1 1049.4,177.4 1071.8,168.1"/><polygon points="1042.7,124.3 1025.6,141.5 1028.9,144.7 1016.2,145.1 1016.5,132.5 1019.8,135.7 1036.9,118.5"/><polygon points="993.4,89.3 984.1,111.7 988.4,113.4 976.8,118.7 972.3,106.8 976.6,108.6 985.8,86.2"/><polygon points="785.9,287 808.3,277.7 806.5,273.4 818.4,277.9 813.2,289.5 811.4,285.2 789,294.5"/><polygon points="818.1,338.3 835.2,321.1 831.9,317.9 844.6,317.5 844.3,330.1 841,326.9 823.9,344.1"/><polygon points="867.4,373.3 876.7,350.9 872.4,349.2 884,343.9 888.5,355.8 884.2,354 875,376.4"/><polygon points="873.1,86.9 877.6,97.6 879.9,96.6 877.8,103.7 871.3,100.2 873.7,99.2 869.2,88.5"/><polygon points="822.5,119.9 830.7,128.1 832.5,126.3 833.2,133.7 825.9,132.9 827.7,131.1 819.5,122.9"/><polygon points="788.3,169.9 799,174.3 799.9,172 803.4,178.5 796.4,180.6 797.3,178.2 786.7,173.8"/><polygon points="987.7,375.7 983.2,365 980.9,366 983,358.9 989.5,362.4 987.1,363.4 991.6,374.1"/><polygon points="1038.3,342.7 1030.1,334.5 1028.3,336.3 1027.6,328.9 1034.9,329.7 1033.1,331.5 1041.3,339.7"/><polygon points="1072.5,292.7 1061.8,288.3 1060.9,290.6 1057.4,284.1 1064.4,282 1063.5,284.4 1074.1,288.8"/></g></g><g id="plot4"><g fill="none" stroke="#bababa" stroke-width="0.9"><ellipse cx="1324.3" cy="231.9" rx="22.8" ry="22.8"/><ellipse cx="1324.3" cy="231.9" rx="68.7" ry="68.6"/><ellipse cx="1324.3" cy="231.9" rx="114.6" ry="114.5"/><ellipse cx="1324.3" cy="231.9" rx="160.5" ry="160.3"/><path d="M1323.8 229.1L1324.3 71.6M1326.5 225.6L1385.7 83.8M1325.9 230L1437.8 118.6M1330.3 229.4L1472.6 170.6M1326.8 232.1L1484.8 231.9M1330.3 234.8L1472.6 293.2M1325.9 234.2L1437.8 345.2M1326.5 238.6L1385.7 380M1323.8 235.1L1324.3 392.2M1321.1 238.6L1262.9 380M1321.7 234.2L1210.8 345.2M1317.3 234.8L1176 293.2M1320.8 232.1L1163.8 231.9M1317.3 229.4L1176 170.6M1321.7 230L1210.8 118.6M1321.1 225.6L1262.9 83.8"/><circle cx="1323.8" cy="232.1" r="2" fill="#c4c4c4" stroke="none"/></g><g font-family='"Liberation Sans", Arial, Helvetica, sans-serif' font-size="10" fill="#1c1a24" stroke="#1c1a24" stroke-width="0.4" text-anchor="middle"><rect x="1335.1" y="229.6" width="22" height="8" fill="#fff" stroke="none"/><text x="1346.1" y="237.7">-100</text><rect x="1383.7" y="229.6" width="16.5" height="8" fill="#fff" stroke="none"/><text x="1392" y="237.7">-50</text><rect x="1433.9" y="229.6" width="8" height="8" fill="#fff" stroke="none"/><text x="1437.9" y="237.7">0</text><text x="1483.8" y="237.7">50</text></g><g fill="none" stroke="#241e8c" stroke-width="1.3"><circle cx="1225.2" cy="217.9" r="1.85"/><circle cx="1227.7" cy="214.2" r="1.85"/><circle cx="1227.2" cy="209.2" r="1.85"/><circle cx="1226.4" cy="206.7" r="1.85"/><circle cx="1232.7" cy="213.4" r="1.85"/><circle cx="1232.2" cy="204.9" r="1.85"/><circle cx="1237.7" cy="202.9" r="1.85"/><circle cx="1238.9" cy="199.1" r="1.85"/><circle cx="1242.7" cy="200.4" r="1.85"/><circle cx="1243.2" cy="195.4" r="1.85"/><circle cx="1241" cy="192.4" r="1.85"/><circle cx="1239.7" cy="188.6" r="1.85"/><circle cx="1240.2" cy="184.9" r="1.85"/><circle cx="1240.7" cy="181.6" r="1.85"/><circle cx="1240.2" cy="177.9" r="1.85"/><circle cx="1242.7" cy="176.1" r="1.85"/><circle cx="1252.2" cy="172.3" r="1.85"/><circle cx="1254" cy="179.1" r="1.85"/><circle cx="1256.5" cy="177.4" r="1.85"/><circle cx="1258.5" cy="175.4" r="1.85"/><circle cx="1246.5" cy="148.3" r="1.85"/><circle cx="1251.5" cy="149" r="1.85"/><circle cx="1255.2" cy="149" r="1.85"/><circle cx="1259" cy="149.5" r="1.85"/><circle cx="1263.2" cy="150.8" r="1.85"/><circle cx="1266" cy="149" r="1.85"/><circle cx="1270.8" cy="152.3" r="1.85"/><circle cx="1280.3" cy="162.8" r="1.85"/><circle cx="1285.3" cy="162.1" r="1.85"/><circle cx="1280.3" cy="157.3" r="1.85"/><circle cx="1284" cy="155.3" r="1.85"/><circle cx="1282.3" cy="146" r="1.85"/><circle cx="1286.5" cy="148.5" r="1.85"/><circle cx="1287.3" cy="142.8" r="1.85"/><circle cx="1287.8" cy="137.8" r="1.85"/><circle cx="1289" cy="133.5" r="1.85"/><circle cx="1290.3" cy="130.3" r="1.85"/><circle cx="1292.8" cy="128.3" r="1.85"/><circle cx="1295.8" cy="126" r="1.85"/><circle cx="1300.3" cy="133.3" r="1.85"/><circle cx="1303.6" cy="134.5" r="1.85"/><circle cx="1305.8" cy="132.8" r="1.85"/><circle cx="1304.8" cy="109" r="1.85"/><circle cx="1307.8" cy="103.5" r="1.85"/><circle cx="1309.3" cy="106" r="1.85"/><circle cx="1311.6" cy="109.7" r="1.85"/><circle cx="1316.1" cy="118.2" r="1.85"/><circle cx="1319.1" cy="136.5" r="1.85"/><circle cx="1321.6" cy="131" r="1.85"/><circle cx="1324.9" cy="131" r="1.85"/><circle cx="1326.6" cy="148.5" r="1.85"/><circle cx="1329.6" cy="148.3" r="1.85"/><circle cx="1330.4" cy="155.8" r="1.85"/><circle cx="1332.4" cy="161.1" r="1.85"/><circle cx="1334.9" cy="157.3" r="1.85"/><circle cx="1337.9" cy="151.1" r="1.85"/><circle cx="1341.2" cy="149" r="1.85"/><circle cx="1343.4" cy="146.5" r="1.85"/><circle cx="1345.4" cy="150.8" r="1.85"/><circle cx="1348.4" cy="144.8" r="1.85"/><circle cx="1351.7" cy="146.5" r="1.85"/><circle cx="1353.7" cy="146" r="1.85"/><circle cx="1352.9" cy="152.8" r="1.85"/><circle cx="1355.4" cy="155.3" r="1.85"/><circle cx="1360.4" cy="146.5" r="1.85"/><circle cx="1361.7" cy="151.6" r="1.85"/><circle cx="1360.4" cy="159.8" r="1.85"/><circle cx="1365.5" cy="154.8" r="1.85"/><circle cx="1369.2" cy="152.3" r="1.85"/><circle cx="1373" cy="151.1" r="1.85"/><circle cx="1375" cy="151.1" r="1.85"/><circle cx="1374.8" cy="154.2" r="1.85"/><circle cx="1375" cy="158.3" r="1.85"/><circle cx="1381.7" cy="151.6" r="1.85"/><circle cx="1384.2" cy="153.3" r="1.85"/><circle cx="1381.7" cy="160.3" r="1.85"/><circle cx="1386.7" cy="159.1" r="1.85"/><circle cx="1381.7" cy="167.3" r="1.85"/><circle cx="1386.7" cy="166.6" r="1.85"/><circle cx="1390.5" cy="164.8" r="1.85"/><circle cx="1383" cy="177.1" r="1.85"/><circle cx="1388" cy="174.6" r="1.85"/><circle cx="1400.5" cy="167.3" r="1.85"/><circle cx="1402.5" cy="169.6" r="1.85"/><circle cx="1409.8" cy="166.6" r="1.85"/><circle cx="1409.3" cy="171.1" r="1.85"/><circle cx="1403" cy="178.4" r="1.85"/><circle cx="1401.8" cy="181.6" r="1.85"/><circle cx="1399.3" cy="186.6" r="1.85"/><circle cx="1397.5" cy="190.4" r="1.85"/><circle cx="1384.7" cy="199.9" r="1.85"/><circle cx="1370.5" cy="208.7" r="1.85"/><circle cx="1425.6" cy="185.4" r="1.85"/><circle cx="1415.1" cy="193.4" r="1.85"/><circle cx="1411.8" cy="197.4" r="1.85"/><circle cx="1415.1" cy="199.1" r="1.85"/><circle cx="1415.1" cy="202.4" r="1.85"/><circle cx="1413.5" cy="205.4" r="1.85"/><circle cx="1416.8" cy="207.9" r="1.85"/><circle cx="1416.3" cy="211.7" r="1.85"/><circle cx="1425.6" cy="212.4" r="1.85"/><circle cx="1430.1" cy="214.9" r="1.85"/><circle cx="1431.8" cy="217.4" r="1.85"/><circle cx="1224.7" cy="220" r="1.85"/><circle cx="1227.8" cy="221.4" r="1.85"/><circle cx="1232.2" cy="223" r="1.85"/><circle cx="1229.7" cy="226.3" r="1.85"/><circle cx="1226.4" cy="229.5" r="1.85"/><circle cx="1224.7" cy="232.5" r="1.85"/><circle cx="1225.9" cy="235.8" r="1.85"/><circle cx="1226.4" cy="238.3" r="1.85"/><circle cx="1220.2" cy="241.3" r="1.85"/><circle cx="1223.9" cy="243.8" r="1.85"/><circle cx="1222.2" cy="247.1" r="1.85"/><circle cx="1224.4" cy="249.6" r="1.85"/><circle cx="1232.2" cy="250.8" r="1.85"/><circle cx="1237.2" cy="252.1" r="1.85"/><circle cx="1234.7" cy="255.8" r="1.85"/><circle cx="1237.7" cy="257.1" r="1.85"/><circle cx="1242.7" cy="257.1" r="1.85"/><circle cx="1244" cy="260.1" r="1.85"/><circle cx="1241.5" cy="263.8" r="1.85"/><circle cx="1235.2" cy="268.3" r="1.85"/><circle cx="1236.4" cy="273.9" r="1.85"/><circle cx="1235.2" cy="277.1" r="1.85"/><circle cx="1238.2" cy="280.1" r="1.85"/><circle cx="1238.9" cy="284.6" r="1.85"/><circle cx="1227.7" cy="274.4" r="1.85"/><circle cx="1264.5" cy="271.4" r="1.85"/><circle cx="1259.7" cy="275.6" r="1.85"/><circle cx="1260.2" cy="278.9" r="1.85"/><circle cx="1265.3" cy="280.1" r="1.85"/><circle cx="1260.2" cy="282.1" r="1.85"/><circle cx="1264.7" cy="285.6" r="1.85"/><circle cx="1268.5" cy="285.6" r="1.85"/><circle cx="1270.8" cy="278.1" r="1.85"/><circle cx="1264.7" cy="291.9" r="1.85"/><circle cx="1265.3" cy="295.9" r="1.85"/><circle cx="1264.5" cy="299.7" r="1.85"/><circle cx="1262" cy="301.9" r="1.85"/><circle cx="1266.5" cy="300.7" r="1.85"/><circle cx="1272.8" cy="297.7" r="1.85"/><circle cx="1275.3" cy="298.9" r="1.85"/><circle cx="1277.3" cy="302.7" r="1.85"/><circle cx="1282.3" cy="291.4" r="1.85"/><circle cx="1285.8" cy="293.9" r="1.85"/><circle cx="1285.3" cy="297.7" r="1.85"/><circle cx="1289.8" cy="295.2" r="1.85"/><circle cx="1292.8" cy="291.9" r="1.85"/><circle cx="1300.3" cy="279.6" r="1.85"/><circle cx="1302.3" cy="282.1" r="1.85"/><circle cx="1298.6" cy="285.9" r="1.85"/><circle cx="1302.3" cy="287.6" r="1.85"/><circle cx="1318.6" cy="282.6" r="1.85"/><circle cx="1316.6" cy="286.4" r="1.85"/><circle cx="1302.8" cy="297.2" r="1.85"/><circle cx="1304.1" cy="300.2" r="1.85"/><circle cx="1299.1" cy="300.9" r="1.85"/><circle cx="1303.6" cy="307.7" r="1.85"/><circle cx="1306.6" cy="308.2" r="1.85"/><circle cx="1309.1" cy="308.4" r="1.85"/><circle cx="1311.6" cy="308.4" r="1.85"/><circle cx="1318.4" cy="308.9" r="1.85"/><circle cx="1319.9" cy="313.4" r="1.85"/><circle cx="1321.6" cy="326.5" r="1.85"/><circle cx="1324.6" cy="338.2" r="1.85"/><circle cx="1327.9" cy="347.8" r="1.85"/><circle cx="1329.6" cy="327.7" r="1.85"/><circle cx="1332.9" cy="328.5" r="1.85"/><circle cx="1335.4" cy="329.7" r="1.85"/><circle cx="1339.1" cy="334.7" r="1.85"/><circle cx="1341.2" cy="334.7" r="1.85"/><circle cx="1345.4" cy="340.2" r="1.85"/><circle cx="1347.4" cy="334" r="1.85"/><circle cx="1349.2" cy="329" r="1.85"/><circle cx="1351.7" cy="328.2" r="1.85"/><circle cx="1354.2" cy="328.2" r="1.85"/><circle cx="1352.4" cy="313.9" r="1.85"/><circle cx="1354.9" cy="310.7" r="1.85"/><circle cx="1354.9" cy="307.7" r="1.85"/><circle cx="1358.7" cy="312.2" r="1.85"/><circle cx="1360.4" cy="310.7" r="1.85"/><circle cx="1360.4" cy="304.4" r="1.85"/><circle cx="1361.7" cy="301.4" r="1.85"/><circle cx="1366.7" cy="307.7" r="1.85"/><circle cx="1371" cy="310.2" r="1.85"/><circle cx="1376.7" cy="314.4" r="1.85"/><circle cx="1381" cy="315.2" r="1.85"/><circle cx="1386.2" cy="317.7" r="1.85"/><circle cx="1390" cy="317.2" r="1.85"/><circle cx="1391.8" cy="314.7" r="1.85"/><circle cx="1393.5" cy="312.2" r="1.85"/><circle cx="1393" cy="308.4" r="1.85"/><circle cx="1391.3" cy="302.2" r="1.85"/><circle cx="1391.8" cy="298.4" r="1.85"/><circle cx="1391.3" cy="294.6" r="1.85"/><circle cx="1392.5" cy="292.1" r="1.85"/><circle cx="1395.5" cy="292.6" r="1.85"/><circle cx="1393.5" cy="288.1" r="1.85"/><circle cx="1395" cy="285.6" r="1.85"/><circle cx="1398" cy="284.6" r="1.85"/><circle cx="1401.8" cy="283.9" r="1.85"/><circle cx="1402.5" cy="281.9" r="1.85"/><circle cx="1399.3" cy="276.4" r="1.85"/><circle cx="1398.5" cy="273.1" r="1.85"/><circle cx="1399.3" cy="270.1" r="1.85"/><circle cx="1405" cy="271.9" r="1.85"/><circle cx="1404.8" cy="269.3" r="1.85"/><circle cx="1400" cy="264.6" r="1.85"/><circle cx="1395.5" cy="259.6" r="1.85"/><circle cx="1398" cy="259.6" r="1.85"/><circle cx="1403" cy="258.8" r="1.85"/><circle cx="1405.5" cy="257.1" r="1.85"/><circle cx="1406" cy="253.8" r="1.85"/><circle cx="1407.5" cy="252.1" r="1.85"/><circle cx="1410.5" cy="250.8" r="1.85"/><circle cx="1413" cy="249.6" r="1.85"/><circle cx="1416.8" cy="247.6" r="1.85"/><circle cx="1411" cy="243.8" r="1.85"/><circle cx="1408.5" cy="240.5" r="1.85"/><circle cx="1407.5" cy="238.8" r="1.85"/><circle cx="1413" cy="236.3" r="1.85"/><circle cx="1410.5" cy="233.8" r="1.85"/><circle cx="1408" cy="231.8" r="1.85"/><circle cx="1404.3" cy="228.3" r="1.85"/><circle cx="1403" cy="227" r="1.85"/><circle cx="1414.3" cy="231.3" r="1.85"/><circle cx="1416.8" cy="229.5" r="1.85"/><circle cx="1412.5" cy="224.3" r="1.85"/><circle cx="1431.1" cy="221.3" r="1.85"/></g><path d="M1305.4 235.2L1317.3 208.9L1317.3 254.1M1330.7 208.9L1330.7 254.1L1342.4 227.5" fill="none" stroke="#e6261a" stroke-width="3.5" stroke-linejoin="round" stroke-linecap="round"/><path d="M1325 321.4L1324.5 136" fill="none" stroke="#e6261a" stroke-width="3.1" stroke-dasharray="11.2 8.8"/><g font-family='"Liberation Sans", Arial, Helvetica, sans-serif' fill="#000" stroke="none" text-anchor="middle"><text transform="translate(1438.3 43.8) scale(1 1.05)" font-size="29.0">Stage 4_6</text><text transform="translate(1327 69.4) scale(1 1.06)" font-size="28.3">0</text><text transform="translate(1202.3 112) scale(1 1.06)" font-size="28.3">45</text><text transform="translate(1461.9 121) scale(1 1.06)" font-size="28.3">315</text><text transform="translate(1189.8 225.5) scale(1 1.06)" font-size="28.3">90</text><text transform="translate(1452 258) scale(1 1.06)" font-size="28.3">270</text><text transform="translate(1188.1 367) scale(1 1.06)" font-size="28.3">135</text><text transform="translate(1454.8 369.8) scale(1 1.06)" font-size="28.3">225</text><text transform="translate(1327.9 414.6) scale(1 1.06)" font-size="28.3">180</text></g><g fill="#5294d3" stroke="#3a7bc0" stroke-width="1"><polygon points="1484,236.1 1459.1,236.1 1459.1,240.9 1449.5,231.9 1459.1,222.9 1459.1,227.7 1484,227.7"/><polygon points="1473.4,174.7 1450.4,184.3 1452.2,188.7 1440,184 1445.4,172.1 1447.2,176.5 1470.2,167"/><polygon points="1440.2,122.1 1422.5,139.7 1425.9,143.1 1412.8,143.5 1413.3,130.4 1416.6,133.8 1434.3,116.2"/><polygon points="1164.6,227.7 1189.5,227.7 1189.5,222.9 1199.1,231.9 1189.5,240.9 1189.5,236.1 1164.6,236.1"/><polygon points="1175.2,289.1 1198.2,279.5 1196.4,275.1 1208.6,279.8 1203.2,291.7 1201.4,287.3 1178.4,296.8"/><polygon points="1208.4,341.7 1226.1,324.1 1222.7,320.7 1235.8,320.3 1235.3,333.4 1232,330 1214.3,347.6"/><polygon points="1326.5,72.4 1326.5,84.3 1329.1,84.3 1324.3,90.2 1319.5,84.3 1322.1,84.3 1322.1,72.4"/><polygon points="1265.2,83.7 1269.8,94.7 1272.2,93.7 1270,101 1263.3,97.4 1265.7,96.4 1261.2,85.4"/><polygon points="1212.9,117.6 1221.3,126 1223.2,124.1 1224,131.7 1216.4,130.9 1218.3,129.1 1209.8,120.7"/><polygon points="1322.1,391.4 1322.1,379.5 1319.5,379.5 1324.3,373.6 1329.1,379.5 1326.5,379.5 1326.5,391.4"/><polygon points="1383.4,380.1 1378.8,369.1 1376.4,370.1 1378.6,362.8 1385.3,366.4 1382.9,367.4 1387.4,378.4"/><polygon points="1435.7,346.2 1427.3,337.8 1425.4,339.7 1424.6,332.1 1432.2,332.9 1430.3,334.7 1438.8,343.1"/></g></g><g id="plot5"><g fill="none" stroke="#bababa" stroke-width="0.9"><ellipse cx="1693.7" cy="233.6" rx="22" ry="22"/><ellipse cx="1693.7" cy="233.6" rx="66.2" ry="66.3"/><ellipse cx="1693.7" cy="233.6" rx="110.5" ry="110.7"/><ellipse cx="1693.7" cy="233.6" rx="154.7" ry="155"/><path d="M1693.5 230.6L1693.7 78.6M1696.2 227.1L1752.9 90.4M1695.6 231.5L1803.1 124M1700 230.9L1836.6 174.3M1696.5 233.6L1848.4 233.6M1700 236.3L1836.6 292.9M1695.6 235.7L1803.1 343.2M1696.2 240.1L1752.9 376.8M1693.5 236.6L1693.7 388.6M1690.8 240.1L1634.5 376.8M1691.4 235.7L1584.3 343.2M1687 236.3L1550.8 292.9M1690.5 233.6L1539 233.6M1687 230.9L1550.8 174.3M1691.4 231.5L1584.3 124M1690.8 227.1L1634.5 90.4"/><circle cx="1693.5" cy="233.6" r="2" fill="#c4c4c4" stroke="none"/></g><g font-family='"Liberation Sans", Arial, Helvetica, sans-serif' font-size="10" fill="#1c1a24" stroke="#1c1a24" stroke-width="0.4" text-anchor="middle"><rect x="1703.7" y="231.1" width="22" height="8" fill="#fff" stroke="none"/><text x="1714.7" y="239.2">-100</text><rect x="1750.7" y="231.1" width="16.5" height="8" fill="#fff" stroke="none"/><text x="1758.9" y="239.2">-50</text><rect x="1799.2" y="231.1" width="8" height="8" fill="#fff" stroke="none"/><text x="1803.2" y="239.2">0</text><text x="1847.4" y="239.2">50</text></g><g fill="none" stroke="#241e8c" stroke-width="1.3"><circle cx="1595.9" cy="217.9" r="1.85"/><circle cx="1599.2" cy="216.2" r="1.85"/><circle cx="1597.2" cy="212.9" r="1.85"/><circle cx="1587.7" cy="207.9" r="1.85"/><circle cx="1591.7" cy="206.7" r="1.85"/><circle cx="1598.9" cy="205.9" r="1.85"/><circle cx="1601.7" cy="203.4" r="1.85"/><circle cx="1604.2" cy="201.2" r="1.85"/><circle cx="1608.4" cy="200.4" r="1.85"/><circle cx="1611.7" cy="199.6" r="1.85"/><circle cx="1617.2" cy="199.6" r="1.85"/><circle cx="1619.2" cy="197.9" r="1.85"/><circle cx="1619.2" cy="194.9" r="1.85"/><circle cx="1622.2" cy="194.1" r="1.85"/><circle cx="1623.5" cy="191.6" r="1.85"/><circle cx="1621.5" cy="189.1" r="1.85"/><circle cx="1623.5" cy="187.4" r="1.85"/><circle cx="1620.5" cy="185.4" r="1.85"/><circle cx="1622.2" cy="182.4" r="1.85"/><circle cx="1623.5" cy="179.1" r="1.85"/><circle cx="1622.7" cy="175.4" r="1.85"/><circle cx="1623" cy="172.1" r="1.85"/><circle cx="1624.7" cy="159.1" r="1.85"/><circle cx="1629.7" cy="161.6" r="1.85"/><circle cx="1633.5" cy="161.6" r="1.85"/><circle cx="1637.3" cy="161.6" r="1.85"/><circle cx="1640.3" cy="160.3" r="1.85"/><circle cx="1640.5" cy="156.6" r="1.85"/><circle cx="1641" cy="152.8" r="1.85"/><circle cx="1649.3" cy="164.1" r="1.85"/><circle cx="1649.3" cy="157.3" r="1.85"/><circle cx="1654.8" cy="163.6" r="1.85"/><circle cx="1655.3" cy="159.1" r="1.85"/><circle cx="1659" cy="156.1" r="1.85"/><circle cx="1654.8" cy="152.8" r="1.85"/><circle cx="1658.5" cy="149.8" r="1.85"/><circle cx="1659.8" cy="145.3" r="1.85"/><circle cx="1660.3" cy="141" r="1.85"/><circle cx="1661.5" cy="134.8" r="1.85"/><circle cx="1662.8" cy="131.5" r="1.85"/><circle cx="1665.6" cy="129" r="1.85"/><circle cx="1670.3" cy="137" r="1.85"/><circle cx="1673.6" cy="139.5" r="1.85"/><circle cx="1676.6" cy="136.5" r="1.85"/><circle cx="1674.8" cy="111.5" r="1.85"/><circle cx="1678.6" cy="113.5" r="1.85"/><circle cx="1682.3" cy="117.2" r="1.85"/><circle cx="1686.1" cy="127.3" r="1.85"/><circle cx="1694.1" cy="130.3" r="1.85"/><circle cx="1691.6" cy="136" r="1.85"/><circle cx="1689.4" cy="137.8" r="1.85"/><circle cx="1696.9" cy="141" r="1.85"/><circle cx="1699.9" cy="138.5" r="1.85"/><circle cx="1701.9" cy="145.3" r="1.85"/><circle cx="1704.9" cy="144.5" r="1.85"/><circle cx="1706.9" cy="142" r="1.85"/><circle cx="1709.9" cy="137.8" r="1.85"/><circle cx="1711.6" cy="145.8" r="1.85"/><circle cx="1713.7" cy="148.3" r="1.85"/><circle cx="1714.9" cy="151.6" r="1.85"/><circle cx="1718.7" cy="147" r="1.85"/><circle cx="1721.9" cy="146.5" r="1.85"/><circle cx="1724.9" cy="145.3" r="1.85"/><circle cx="1724.4" cy="149" r="1.85"/><circle cx="1727.4" cy="149.5" r="1.85"/><circle cx="1732.4" cy="144.5" r="1.85"/><circle cx="1734.4" cy="146.5" r="1.85"/><circle cx="1736.2" cy="150.3" r="1.85"/><circle cx="1739.5" cy="149" r="1.85"/><circle cx="1745" cy="143.5" r="1.85"/><circle cx="1749.2" cy="142.3" r="1.85"/><circle cx="1750.7" cy="145.8" r="1.85"/><circle cx="1750" cy="151.6" r="1.85"/><circle cx="1753.7" cy="151.1" r="1.85"/><circle cx="1754.5" cy="154.8" r="1.85"/><circle cx="1756.2" cy="157.3" r="1.85"/><circle cx="1753.2" cy="164.8" r="1.85"/><circle cx="1750" cy="171.6" r="1.85"/><circle cx="1753.7" cy="170.3" r="1.85"/><circle cx="1756.2" cy="174.6" r="1.85"/><circle cx="1760" cy="174.1" r="1.85"/><circle cx="1759.5" cy="168.3" r="1.85"/><circle cx="1766.3" cy="172.1" r="1.85"/><circle cx="1771.3" cy="172.1" r="1.85"/><circle cx="1776.8" cy="170.8" r="1.85"/><circle cx="1776.3" cy="174.8" r="1.85"/><circle cx="1771.8" cy="180.4" r="1.85"/><circle cx="1769.3" cy="184.9" r="1.85"/><circle cx="1768" cy="187.9" r="1.85"/><circle cx="1770.5" cy="190.4" r="1.85"/><circle cx="1763.8" cy="197.1" r="1.85"/><circle cx="1754.5" cy="203.4" r="1.85"/><circle cx="1780.5" cy="193.4" r="1.85"/><circle cx="1783" cy="196.1" r="1.85"/><circle cx="1785" cy="199.1" r="1.85"/><circle cx="1787.6" cy="201.2" r="1.85"/><circle cx="1791.3" cy="202.9" r="1.85"/><circle cx="1798.1" cy="204.2" r="1.85"/><circle cx="1787.6" cy="209.9" r="1.85"/><circle cx="1780.8" cy="214.2" r="1.85"/><circle cx="1783.8" cy="216.7" r="1.85"/><circle cx="1787.1" cy="217.9" r="1.85"/><circle cx="1595.9" cy="221.3" r="1.85"/><circle cx="1600.9" cy="224.5" r="1.85"/><circle cx="1604.7" cy="227.5" r="1.85"/><circle cx="1606.7" cy="230" r="1.85"/><circle cx="1599.7" cy="232" r="1.85"/><circle cx="1596.4" cy="235" r="1.85"/><circle cx="1595.2" cy="238.8" r="1.85"/><circle cx="1593.4" cy="242" r="1.85"/><circle cx="1590.9" cy="245.1" r="1.85"/><circle cx="1591.7" cy="248.3" r="1.85"/><circle cx="1594.7" cy="250.8" r="1.85"/><circle cx="1601.4" cy="252.1" r="1.85"/><circle cx="1606.7" cy="252.6" r="1.85"/><circle cx="1604.2" cy="257.1" r="1.85"/><circle cx="1607.2" cy="257.6" r="1.85"/><circle cx="1610.4" cy="259.6" r="1.85"/><circle cx="1611.7" cy="262.1" r="1.85"/><circle cx="1610.9" cy="265.1" r="1.85"/><circle cx="1605.9" cy="269.6" r="1.85"/><circle cx="1600.4" cy="273.9" r="1.85"/><circle cx="1608.9" cy="273.4" r="1.85"/><circle cx="1609.7" cy="276.4" r="1.85"/><circle cx="1617.2" cy="275.1" r="1.85"/><circle cx="1625.5" cy="277.6" r="1.85"/><circle cx="1610.9" cy="281.4" r="1.85"/><circle cx="1608.4" cy="285.9" r="1.85"/><circle cx="1636.5" cy="272.6" r="1.85"/><circle cx="1637.3" cy="275.6" r="1.85"/><circle cx="1640.3" cy="278.1" r="1.85"/><circle cx="1636.5" cy="278.9" r="1.85"/><circle cx="1634.2" cy="285.6" r="1.85"/><circle cx="1629.2" cy="295.7" r="1.85"/><circle cx="1626.7" cy="301.4" r="1.85"/><circle cx="1627.7" cy="305.2" r="1.85"/><circle cx="1624.7" cy="311.4" r="1.85"/><circle cx="1628" cy="312.2" r="1.85"/><circle cx="1631.7" cy="312.2" r="1.85"/><circle cx="1634.7" cy="311.9" r="1.85"/><circle cx="1637.8" cy="313.9" r="1.85"/><circle cx="1637.8" cy="317.2" r="1.85"/><circle cx="1649.8" cy="304.4" r="1.85"/><circle cx="1653" cy="302.7" r="1.85"/><circle cx="1654.8" cy="304.4" r="1.85"/><circle cx="1661.5" cy="294.6" r="1.85"/><circle cx="1667.3" cy="287.1" r="1.85"/><circle cx="1669.8" cy="287.6" r="1.85"/><circle cx="1672.3" cy="285.1" r="1.85"/><circle cx="1671.1" cy="290.9" r="1.85"/><circle cx="1672.8" cy="297.7" r="1.85"/><circle cx="1669.8" cy="300.7" r="1.85"/><circle cx="1670.3" cy="312.2" r="1.85"/><circle cx="1670.6" cy="317.7" r="1.85"/><circle cx="1671.8" cy="321.5" r="1.85"/><circle cx="1674.3" cy="323.5" r="1.85"/><circle cx="1676.8" cy="326" r="1.85"/><circle cx="1682.8" cy="320.2" r="1.85"/><circle cx="1684.3" cy="322.7" r="1.85"/><circle cx="1686.6" cy="332.7" r="1.85"/><circle cx="1689.1" cy="333.2" r="1.85"/><circle cx="1691.6" cy="336" r="1.85"/><circle cx="1697.4" cy="335.2" r="1.85"/><circle cx="1676.6" cy="340.2" r="1.85"/><circle cx="1694.1" cy="343.2" r="1.85"/><circle cx="1698.6" cy="318.4" r="1.85"/><circle cx="1701.1" cy="316.4" r="1.85"/><circle cx="1704.1" cy="322.7" r="1.85"/><circle cx="1707.4" cy="328.5" r="1.85"/><circle cx="1710.6" cy="329.5" r="1.85"/><circle cx="1713.2" cy="332" r="1.85"/><circle cx="1715.7" cy="329.5" r="1.85"/><circle cx="1718.7" cy="327.7" r="1.85"/><circle cx="1720.7" cy="326" r="1.85"/><circle cx="1722.4" cy="323.5" r="1.85"/><circle cx="1722.4" cy="315.2" r="1.85"/><circle cx="1724.4" cy="312.2" r="1.85"/><circle cx="1727.9" cy="313.4" r="1.85"/><circle cx="1730.4" cy="310.7" r="1.85"/><circle cx="1731.9" cy="306.9" r="1.85"/><circle cx="1731.7" cy="303.9" r="1.85"/><circle cx="1736.2" cy="306.4" r="1.85"/><circle cx="1739.5" cy="309.4" r="1.85"/><circle cx="1743.2" cy="305.9" r="1.85"/><circle cx="1748.7" cy="310.7" r="1.85"/><circle cx="1751.2" cy="307.7" r="1.85"/><circle cx="1753.7" cy="307.7" r="1.85"/><circle cx="1757.5" cy="306.9" r="1.85"/><circle cx="1760" cy="305.2" r="1.85"/><circle cx="1761.7" cy="303.9" r="1.85"/><circle cx="1761.7" cy="300.7" r="1.85"/><circle cx="1758.2" cy="294.4" r="1.85"/><circle cx="1761.7" cy="294.4" r="1.85"/><circle cx="1763.8" cy="292.1" r="1.85"/><circle cx="1764.5" cy="289.6" r="1.85"/><circle cx="1763.8" cy="286.4" r="1.85"/><circle cx="1764.3" cy="282.6" r="1.85"/><circle cx="1765" cy="280.1" r="1.85"/><circle cx="1766.3" cy="279.4" r="1.85"/><circle cx="1754.5" cy="267.1" r="1.85"/><circle cx="1756.2" cy="270.1" r="1.85"/><circle cx="1762" cy="269.6" r="1.85"/><circle cx="1768.8" cy="270.9" r="1.85"/><circle cx="1773.8" cy="270.9" r="1.85"/><circle cx="1772" cy="266.3" r="1.85"/><circle cx="1772.5" cy="264.6" r="1.85"/><circle cx="1775.5" cy="263.1" r="1.85"/><circle cx="1777.5" cy="261.3" r="1.85"/><circle cx="1780.5" cy="259.6" r="1.85"/><circle cx="1781.3" cy="257.1" r="1.85"/><circle cx="1786.3" cy="255.8" r="1.85"/><circle cx="1790.6" cy="255.1" r="1.85"/><circle cx="1792.6" cy="252.6" r="1.85"/><circle cx="1793.1" cy="249.3" r="1.85"/><circle cx="1784.5" cy="245.8" r="1.85"/><circle cx="1782" cy="243.3" r="1.85"/><circle cx="1780.5" cy="240.8" r="1.85"/><circle cx="1778.8" cy="238" r="1.85"/><circle cx="1777" cy="236.3" r="1.85"/><circle cx="1773.8" cy="233.3" r="1.85"/><circle cx="1783" cy="228.8" r="1.85"/><circle cx="1782" cy="232.5" r="1.85"/><circle cx="1792.1" cy="230.5" r="1.85"/><circle cx="1792.1" cy="227" r="1.85"/><circle cx="1794.6" cy="223" r="1.85"/><circle cx="1788.8" cy="221.3" r="1.85"/></g><path d="M1675.8 236.3L1687.3 210.8L1687.3 254.5M1700.3 210.8L1700.3 254.5L1711.6 228.8" fill="none" stroke="#e6261a" stroke-width="3.4" stroke-linejoin="round" stroke-linecap="round"/><path d="M1694.4 319.6L1694.2 141" fill="none" stroke="#e6261a" stroke-width="3.1" stroke-dasharray="10.9 8.5"/><g font-family='"Liberation Sans", Arial, Helvetica, sans-serif' fill="#000" stroke="none" text-anchor="middle"><text transform="translate(1804.5 45.8) scale(1 1.05)" font-size="29.0">Stage 5_6</text><text transform="translate(1693.2 71.4) scale(1 1.06)" font-size="28.3">0</text><text transform="translate(1568.2 114) scale(1 1.06)" font-size="28.3">45</text><text transform="translate(1828 122.7) scale(1 1.06)" font-size="28.3">315</text><text transform="translate(1556.1 227) scale(1 1.06)" font-size="28.3">90</text><text transform="translate(1818 260) scale(1 1.06)" font-size="28.3">270</text><text transform="translate(1554.1 369.5) scale(1 1.06)" font-size="28.3">135</text><text transform="translate(1820.7 372) scale(1 1.06)" font-size="28.3">225</text><text transform="translate(1693.6 416.6) scale(1 1.06)" font-size="28.3">180</text></g><g fill="#5294d3" stroke="#3a7bc0" stroke-width="1"><polygon points="1834.3,296.3 1812.1,287.1 1810.3,291.4 1805.2,279.9 1817,275.4 1815.2,279.6 1837.4,288.9"/><polygon points="1847.6,237.6 1823.5,237.6 1823.5,242.2 1814.3,233.6 1823.5,225 1823.5,229.6 1847.6,229.6"/><polygon points="1837.4,178.3 1815.2,187.6 1817,191.8 1805.2,187.3 1810.3,175.8 1812.1,180.1 1834.3,170.9"/><polygon points="1553.1,170.9 1575.3,180.1 1577.1,175.8 1582.2,187.3 1570.4,191.8 1572.2,187.6 1550,178.3"/><polygon points="1539.8,229.6 1563.9,229.6 1563.9,225 1573.1,233.6 1563.9,242.2 1563.9,237.6 1539.8,237.6"/><polygon points="1550,288.9 1572.2,279.6 1570.4,275.4 1582.2,279.9 1577.1,291.4 1575.3,287.1 1553.1,296.3"/><polygon points="1754.5,91.9 1750.1,102.6 1752.5,103.5 1746,107 1743.9,100 1746.3,101 1750.7,90.3"/><polygon points="1695.8,79.4 1695.8,90.9 1698.3,90.9 1693.7,96.6 1689.1,90.9 1691.6,90.9 1691.6,79.4"/><polygon points="1636.7,90.3 1641.1,101 1643.5,100 1641.4,107 1634.9,103.5 1637.3,102.6 1632.9,91.9"/><polygon points="1632.9,375.3 1637.3,364.6 1634.9,363.7 1641.4,360.2 1643.5,367.2 1641.1,366.2 1636.7,376.9"/><polygon points="1691.6,387.8 1691.6,376.3 1689.1,376.3 1693.7,370.6 1698.3,376.3 1695.8,376.3 1695.8,387.8"/><polygon points="1750.7,376.9 1746.3,366.2 1743.9,367.2 1746,360.2 1752.5,363.7 1750.1,364.6 1754.5,375.3"/></g></g><g id="plot6"><g fill="none" stroke="#bababa" stroke-width="0.9"><ellipse cx="179.8" cy="627.2" rx="22.3" ry="22.2"/><ellipse cx="179.8" cy="627.2" rx="67.1" ry="66.9"/><ellipse cx="179.8" cy="627.2" rx="112" ry="111.5"/><ellipse cx="179.8" cy="627.2" rx="156.8" ry="156.2"/><path d="M180.1 624.1L179.8 471M182.8 620.6L239.8 482.9M182.2 625L290.7 516.7M186.6 624.4L324.7 567.4M183.1 627.1L336.6 627.2M186.6 629.8L324.7 687M182.2 629.2L290.7 737.7M182.8 633.6L239.8 771.5M180.1 630.1L179.8 783.4M177.4 633.6L119.8 771.5M178 629.2L68.9 737.7M173.6 629.8L34.9 687M177.1 627.1L23 627.2M173.6 624.4L34.9 567.4M178 625L68.9 516.7M177.4 620.6L119.8 482.9"/><circle cx="180.1" cy="627.1" r="2" fill="#c4c4c4" stroke="none"/></g><g font-family='"Liberation Sans", Arial, Helvetica, sans-serif' font-size="10" fill="#1c1a24" stroke="#1c1a24" stroke-width="0.4" text-anchor="middle"><rect x="190.1" y="624.6" width="22" height="8" fill="#fff" stroke="none"/><text x="201.1" y="632.7">-100</text><rect x="237.7" y="624.6" width="16.5" height="8" fill="#fff" stroke="none"/><text x="245.9" y="632.7">-50</text><rect x="286.8" y="624.6" width="8" height="8" fill="#fff" stroke="none"/><text x="290.8" y="632.7">0</text><text x="335.6" y="632.7">50</text></g><g fill="none" stroke="#241e8c" stroke-width="1.3"><circle cx="164.1" cy="518.2" r="1.85"/><circle cx="166.6" cy="520.2" r="1.85"/><circle cx="198.6" cy="519.9" r="1.85"/><circle cx="180.9" cy="523.9" r="1.85"/><circle cx="171.6" cy="528.9" r="1.85"/><circle cx="173.6" cy="528.2" r="1.85"/><circle cx="178.6" cy="532.4" r="1.85"/><circle cx="184.1" cy="531.9" r="1.85"/><circle cx="186.6" cy="528.2" r="1.85"/><circle cx="189.6" cy="533.2" r="1.85"/><circle cx="191.6" cy="531.2" r="1.85"/><circle cx="195.4" cy="526.4" r="1.85"/><circle cx="199.6" cy="530.7" r="1.85"/><circle cx="202.2" cy="532.7" r="1.85"/><circle cx="204.2" cy="535.7" r="1.85"/><circle cx="207.4" cy="533.9" r="1.85"/><circle cx="209.9" cy="534.9" r="1.85"/><circle cx="212.4" cy="535.7" r="1.85"/><circle cx="177.1" cy="541.2" r="1.85"/><circle cx="164.1" cy="546.2" r="1.85"/><circle cx="165.3" cy="545.7" r="1.85"/><circle cx="144.5" cy="533.9" r="1.85"/><circle cx="150.3" cy="532.7" r="1.85"/><circle cx="152.1" cy="529.9" r="1.85"/><circle cx="155.3" cy="533.2" r="1.85"/><circle cx="144.5" cy="540.7" r="1.85"/><circle cx="149.5" cy="539.5" r="1.85"/><circle cx="159.6" cy="537.4" r="1.85"/><circle cx="142.8" cy="549" r="1.85"/><circle cx="146.5" cy="552" r="1.85"/><circle cx="139" cy="555.7" r="1.85"/><circle cx="144" cy="557.7" r="1.85"/><circle cx="144.8" cy="560" r="1.85"/><circle cx="139.8" cy="561.5" r="1.85"/><circle cx="110.2" cy="551.5" r="1.85"/><circle cx="114" cy="550.7" r="1.85"/><circle cx="119" cy="552.7" r="1.85"/><circle cx="123.5" cy="553.7" r="1.85"/><circle cx="125.8" cy="552" r="1.85"/><circle cx="126.5" cy="548.7" r="1.85"/><circle cx="129.5" cy="547.7" r="1.85"/><circle cx="212.4" cy="541.2" r="1.85"/><circle cx="214.9" cy="541.2" r="1.85"/><circle cx="217.4" cy="542.7" r="1.85"/><circle cx="219.7" cy="544.5" r="1.85"/><circle cx="219.9" cy="548.2" r="1.85"/><circle cx="224.9" cy="543.7" r="1.85"/><circle cx="230.5" cy="539.5" r="1.85"/><circle cx="234.7" cy="539.5" r="1.85"/><circle cx="237.5" cy="538.7" r="1.85"/><circle cx="240" cy="540.7" r="1.85"/><circle cx="245" cy="537.4" r="1.85"/><circle cx="246.7" cy="540.7" r="1.85"/><circle cx="244.7" cy="547.5" r="1.85"/><circle cx="248" cy="547.5" r="1.85"/><circle cx="246" cy="553.2" r="1.85"/><circle cx="249.2" cy="555" r="1.85"/><circle cx="253.5" cy="554.5" r="1.85"/><circle cx="247.5" cy="564" r="1.85"/><circle cx="250" cy="565.3" r="1.85"/><circle cx="259.3" cy="560.7" r="1.85"/><circle cx="258" cy="564.5" r="1.85"/><circle cx="261.8" cy="565.3" r="1.85"/><circle cx="263" cy="567.5" r="1.85"/><circle cx="268" cy="568.3" r="1.85"/><circle cx="268" cy="572" r="1.85"/><circle cx="267.5" cy="575" r="1.85"/><circle cx="266.8" cy="579" r="1.85"/><circle cx="256.8" cy="586.5" r="1.85"/><circle cx="239.2" cy="597.8" r="1.85"/><circle cx="276.3" cy="582.5" r="1.85"/><circle cx="275.1" cy="586.3" r="1.85"/><circle cx="272.5" cy="590.1" r="1.85"/><circle cx="270" cy="594.6" r="1.85"/><circle cx="271.8" cy="597.8" r="1.85"/><circle cx="273.5" cy="600.8" r="1.85"/><circle cx="275.6" cy="602.8" r="1.85"/><circle cx="277.3" cy="605.3" r="1.85"/><circle cx="281.3" cy="607.8" r="1.85"/><circle cx="276.3" cy="610.8" r="1.85"/><circle cx="275.6" cy="614.1" r="1.85"/><circle cx="277.3" cy="616.4" r="1.85"/><circle cx="266" cy="619.6" r="1.85"/><circle cx="271.8" cy="622.1" r="1.85"/><circle cx="273" cy="627.1" r="1.85"/><circle cx="278.1" cy="627.1" r="1.85"/><circle cx="285.6" cy="623.4" r="1.85"/><circle cx="272.5" cy="629.6" r="1.85"/><circle cx="273.8" cy="632.9" r="1.85"/><circle cx="270.5" cy="635.9" r="1.85"/><circle cx="273.8" cy="637.6" r="1.85"/><circle cx="275.6" cy="639.7" r="1.85"/><circle cx="284.3" cy="643.4" r="1.85"/><circle cx="283.1" cy="646.4" r="1.85"/><circle cx="281.8" cy="649.7" r="1.85"/><circle cx="279.3" cy="651.7" r="1.85"/><circle cx="276.8" cy="652.9" r="1.85"/><circle cx="275.1" cy="655.4" r="1.85"/><circle cx="265.5" cy="657.9" r="1.85"/><circle cx="107.2" cy="562.7" r="1.85"/><circle cx="102.7" cy="564.5" r="1.85"/><circle cx="99.7" cy="565.3" r="1.85"/><circle cx="101.5" cy="569" r="1.85"/><circle cx="98.9" cy="573.3" r="1.85"/><circle cx="100.2" cy="577" r="1.85"/><circle cx="98.2" cy="580.3" r="1.85"/><circle cx="102.2" cy="581.5" r="1.85"/><circle cx="96.4" cy="584" r="1.85"/><circle cx="88.9" cy="583.3" r="1.85"/><circle cx="87.7" cy="587.5" r="1.85"/><circle cx="84.7" cy="589.6" r="1.85"/><circle cx="82.2" cy="592.1" r="1.85"/><circle cx="81.4" cy="595.8" r="1.85"/><circle cx="82.7" cy="599.6" r="1.85"/><circle cx="79.7" cy="603.3" r="1.85"/><circle cx="83.9" cy="602.1" r="1.85"/><circle cx="85.2" cy="607.1" r="1.85"/><circle cx="88.2" cy="610.3" r="1.85"/><circle cx="83.9" cy="611.6" r="1.85"/><circle cx="82.2" cy="614.6" r="1.85"/><circle cx="83.2" cy="617.9" r="1.85"/><circle cx="83.9" cy="620.9" r="1.85"/><circle cx="80.9" cy="623.4" r="1.85"/><circle cx="74.6" cy="625.4" r="1.85"/><circle cx="68.9" cy="629.1" r="1.85"/><circle cx="70.1" cy="632.1" r="1.85"/><circle cx="68.9" cy="635.4" r="1.85"/><circle cx="71.4" cy="637.6" r="1.85"/><circle cx="73.9" cy="639.2" r="1.85"/><circle cx="72.1" cy="642.9" r="1.85"/><circle cx="76.9" cy="645.9" r="1.85"/><circle cx="80.2" cy="647.7" r="1.85"/><circle cx="85.9" cy="648.4" r="1.85"/><circle cx="88.9" cy="651.7" r="1.85"/><circle cx="90.7" cy="653.9" r="1.85"/><circle cx="99.7" cy="655.2" r="1.85"/><circle cx="90.2" cy="658" r="1.85"/><circle cx="94.3" cy="660" r="1.85"/><circle cx="97.7" cy="661" r="1.85"/><circle cx="89.7" cy="668" r="1.85"/><circle cx="90.7" cy="671" r="1.85"/><circle cx="92.7" cy="675" r="1.85"/><circle cx="88.2" cy="680" r="1.85"/><circle cx="82.2" cy="687.6" r="1.85"/><circle cx="111" cy="672.5" r="1.85"/><circle cx="115.2" cy="674.3" r="1.85"/><circle cx="119" cy="670" r="1.85"/><circle cx="118.7" cy="673.4" r="1.85"/><circle cx="118.5" cy="677.5" r="1.85"/><circle cx="114.5" cy="678.5" r="1.85"/><circle cx="110.2" cy="687.6" r="1.85"/><circle cx="113.2" cy="688.6" r="1.85"/><circle cx="111" cy="694.3" r="1.85"/><circle cx="112.7" cy="696.8" r="1.85"/><circle cx="115.7" cy="698.1" r="1.85"/><circle cx="116.5" cy="700.1" r="1.85"/><circle cx="119.7" cy="700.1" r="1.85"/><circle cx="126" cy="696.3" r="1.85"/><circle cx="129" cy="696.8" r="1.85"/><circle cx="124" cy="707.3" r="1.85"/><circle cx="122.7" cy="713.1" r="1.85"/><circle cx="131.5" cy="705.6" r="1.85"/><circle cx="134" cy="705.6" r="1.85"/><circle cx="136.5" cy="706.8" r="1.85"/><circle cx="143.5" cy="697.3" r="1.85"/><circle cx="147.8" cy="693.6" r="1.85"/><circle cx="152.8" cy="688.1" r="1.85"/><circle cx="154.8" cy="687.6" r="1.85"/><circle cx="156.6" cy="688.8" r="1.85"/><circle cx="157.8" cy="695.6" r="1.85"/><circle cx="153.6" cy="701.1" r="1.85"/><circle cx="156.1" cy="708.1" r="1.85"/><circle cx="157.3" cy="712.4" r="1.85"/><circle cx="158.3" cy="717.4" r="1.85"/><circle cx="161.6" cy="718.6" r="1.85"/><circle cx="164.1" cy="718.1" r="1.85"/><circle cx="168.6" cy="717.6" r="1.85"/><circle cx="171.6" cy="718.1" r="1.85"/><circle cx="174.1" cy="715.1" r="1.85"/><circle cx="176.1" cy="718.1" r="1.85"/><circle cx="179.1" cy="718.1" r="1.85"/><circle cx="181.1" cy="721.9" r="1.85"/><circle cx="163.6" cy="732.4" r="1.85"/><circle cx="184.6" cy="693.8" r="1.85"/><circle cx="186.6" cy="698.1" r="1.85"/><circle cx="183.6" cy="704.8" r="1.85"/><circle cx="189.1" cy="703.8" r="1.85"/><circle cx="191.6" cy="706.8" r="1.85"/><circle cx="194.1" cy="708.1" r="1.85"/><circle cx="196.6" cy="710.6" r="1.85"/><circle cx="199.9" cy="712.4" r="1.85"/><circle cx="205.4" cy="715.1" r="1.85"/><circle cx="207.9" cy="714.4" r="1.85"/><circle cx="210.4" cy="711.9" r="1.85"/><circle cx="209.9" cy="705.6" r="1.85"/><circle cx="211.7" cy="701.1" r="1.85"/><circle cx="209.9" cy="699.3" r="1.85"/><circle cx="204.2" cy="720.6" r="1.85"/><circle cx="214.2" cy="689.3" r="1.85"/><circle cx="212.4" cy="692.6" r="1.85"/><circle cx="215.4" cy="691.8" r="1.85"/><circle cx="218.7" cy="693.6" r="1.85"/><circle cx="226.2" cy="691.8" r="1.85"/><circle cx="224.2" cy="694.3" r="1.85"/><circle cx="222.9" cy="697.6" r="1.85"/><circle cx="232.5" cy="698.1" r="1.85"/><circle cx="235" cy="696.8" r="1.85"/><circle cx="238" cy="696.8" r="1.85"/><circle cx="241.7" cy="696.1" r="1.85"/><circle cx="241.7" cy="698.6" r="1.85"/><circle cx="246.2" cy="695.1" r="1.85"/><circle cx="249.2" cy="694.3" r="1.85"/><circle cx="248" cy="689.8" r="1.85"/><circle cx="255" cy="693.6" r="1.85"/><circle cx="255.5" cy="690.6" r="1.85"/><circle cx="258" cy="688.6" r="1.85"/><circle cx="261.8" cy="687.6" r="1.85"/><circle cx="259.3" cy="682.5" r="1.85"/><circle cx="260.5" cy="680" r="1.85"/><circle cx="259.3" cy="676.8" r="1.85"/><circle cx="253" cy="669.8" r="1.85"/><circle cx="254.3" cy="667.5" r="1.85"/><circle cx="258" cy="665.5" r="1.85"/><circle cx="262.5" cy="664.3" r="1.85"/><circle cx="263" cy="661" r="1.85"/><circle cx="265.5" cy="659.3" r="1.85"/><circle cx="273" cy="658" r="1.85"/></g><path d="M163 627.4L175.3 649.1L175.3 605.1M186.3 649.1L186.3 605.1L198.4 626.1" fill="none" stroke="#e6261a" stroke-width="3.4" stroke-linejoin="round" stroke-linecap="round"/><path d="M181 697.9L181 517.7" fill="none" stroke="#e6261a" stroke-width="3.1" stroke-dasharray="10.9 8.5"/><g font-family='"Liberation Sans", Arial, Helvetica, sans-serif' fill="#000" stroke="none" text-anchor="middle"><text transform="translate(291.5 849.6) scale(1 1.05)" font-size="29.0">Stage 6_6</text><text transform="translate(180.4 464.8) scale(1 1.06)" font-size="28.3">0</text><text transform="translate(55.5 507.4) scale(1 1.06)" font-size="28.3">45</text><text transform="translate(315 516.4) scale(1 1.06)" font-size="28.3">315</text><text transform="translate(42.8 620.9) scale(1 1.06)" font-size="28.3">90</text><text transform="translate(305.2 653.4) scale(1 1.06)" font-size="28.3">270</text><text transform="translate(41.3 762.5) scale(1 1.06)" font-size="28.3">135</text><text transform="translate(307.7 765.2) scale(1 1.06)" font-size="28.3">225</text><text transform="translate(181 810) scale(1 1.06)" font-size="28.3">180</text></g><g fill="#5294d3" stroke="#3a7bc0" stroke-width="1"><polygon points="287.2,740 270,722.8 266.7,726.1 266.3,713.4 279,713.7 275.8,717 293,734.2"/><polygon points="322.4,690.5 299.9,681.2 298.1,685.5 292.8,673.8 304.8,669.3 303,673.6 325.5,682.9"/><polygon points="335.8,631.3 311.5,631.3 311.5,635.9 302.2,627.2 311.5,618.5 311.5,623.1 335.8,623.1"/><polygon points="72.4,514.4 89.6,531.6 92.9,528.3 93.3,541 80.6,540.7 83.8,537.4 66.6,520.2"/><polygon points="37.2,563.9 59.7,573.2 61.5,568.9 66.8,580.6 54.8,585.1 56.6,580.8 34.1,571.5"/><polygon points="23.8,623.1 48.1,623.1 48.1,618.5 57.4,627.2 48.1,635.9 48.1,631.3 23.8,631.3"/><polygon points="291.6,518.8 283.4,527 285.2,528.8 277.8,529.6 278.6,522.2 280.4,524 288.6,515.8"/><polygon points="241.5,484.4 237,495.2 239.4,496.2 232.8,499.7 230.7,492.5 233.1,493.5 237.5,482.8"/><polygon points="181.9,471.8 181.9,483.4 184.5,483.4 179.8,489.2 175.1,483.4 177.7,483.4 177.7,471.8"/><polygon points="68,735.6 76.2,727.4 74.4,725.6 81.8,724.8 81,732.2 79.2,730.4 71,738.6"/><polygon points="118.1,770 122.6,759.2 120.2,758.2 126.8,754.7 128.9,761.9 126.5,760.9 122.1,771.6"/><polygon points="177.7,782.6 177.7,771 175.1,771 179.8,765.2 184.5,771 181.9,771 181.9,782.6"/></g></g><g id="plot7"><g fill="none" stroke="#bababa" stroke-width="0.9"><ellipse cx="548.7" cy="627.3" rx="22.5" ry="22.3"/><ellipse cx="548.7" cy="627.3" rx="67.8" ry="67.2"/><ellipse cx="548.7" cy="627.3" rx="113.1" ry="112"/><ellipse cx="548.7" cy="627.3" rx="158.4" ry="156.9"/><path d="M548.5 624.9L548.7 470.4M551.2 621.4L609.3 482.3M550.6 625.8L660.7 516.4M555 625.2L695 567.3M551.5 627.9L707.1 627.3M555 630.6L695 687.3M550.6 630L660.7 738.2M551.2 634.4L609.3 772.3M548.5 630.9L548.7 784.2M545.8 634.4L488.1 772.3M546.4 630L436.7 738.2M542 630.6L402.4 687.3M545.5 627.9L390.3 627.3M542 625.2L402.4 567.3M546.4 625.8L436.7 516.4M545.8 621.4L488.1 482.3"/><circle cx="548.5" cy="627.9" r="2" fill="#c4c4c4" stroke="none"/></g><g font-family='"Liberation Sans", Arial, Helvetica, sans-serif' font-size="10" fill="#1c1a24" stroke="#1c1a24" stroke-width="0.4" text-anchor="middle"><rect x="559.2" y="625.4" width="22" height="8" fill="#fff" stroke="none"/><text x="570.2" y="633.5">-100</text><rect x="607.2" y="625.4" width="16.5" height="8" fill="#fff" stroke="none"/><text x="615.5" y="633.5">-50</text><rect x="656.8" y="625.4" width="8" height="8" fill="#fff" stroke="none"/><text x="660.8" y="633.5">0</text><text x="706.1" y="633.5">50</text><rect x="708.2" y="619.9" width="14" height="16" fill="#fff" stroke="none"/></g><g fill="none" stroke="#241e8c" stroke-width="1.3"><circle cx="566.6" cy="520.2" r="1.85"/><circle cx="569.6" cy="522.4" r="1.85"/><circle cx="573.7" cy="519.4" r="1.85"/><circle cx="575.4" cy="523.7" r="1.85"/><circle cx="579.7" cy="519.9" r="1.85"/><circle cx="581.7" cy="523.9" r="1.85"/><circle cx="584.7" cy="525.2" r="1.85"/><circle cx="585.4" cy="530.2" r="1.85"/><circle cx="562.4" cy="528.2" r="1.85"/><circle cx="560.4" cy="532.7" r="1.85"/><circle cx="554.9" cy="534.9" r="1.85"/><circle cx="552.9" cy="536.9" r="1.85"/><circle cx="549.1" cy="526.2" r="1.85"/><circle cx="546.6" cy="530.2" r="1.85"/><circle cx="536.1" cy="525.7" r="1.85"/><circle cx="539.1" cy="528.2" r="1.85"/><circle cx="541.6" cy="532.7" r="1.85"/><circle cx="534.1" cy="532.4" r="1.85"/><circle cx="544.8" cy="540.7" r="1.85"/><circle cx="556.6" cy="541.2" r="1.85"/><circle cx="509" cy="525.7" r="1.85"/><circle cx="509" cy="533.2" r="1.85"/><circle cx="514.8" cy="532.4" r="1.85"/><circle cx="518.3" cy="533.9" r="1.85"/><circle cx="521.1" cy="532.7" r="1.85"/><circle cx="526.1" cy="540.7" r="1.85"/><circle cx="529.1" cy="545.7" r="1.85"/><circle cx="507.8" cy="544" r="1.85"/><circle cx="511.5" cy="545" r="1.85"/><circle cx="533.6" cy="555.7" r="1.85"/><circle cx="535.8" cy="558.7" r="1.85"/><circle cx="481" cy="553.2" r="1.85"/><circle cx="484.7" cy="554.5" r="1.85"/><circle cx="490.7" cy="557.5" r="1.85"/><circle cx="494.5" cy="557.7" r="1.85"/><circle cx="496.5" cy="557" r="1.85"/><circle cx="498.5" cy="554.5" r="1.85"/><circle cx="502.3" cy="557.5" r="1.85"/><circle cx="507.8" cy="558.2" r="1.85"/><circle cx="512.3" cy="557" r="1.85"/><circle cx="512.8" cy="560.7" r="1.85"/><circle cx="510.8" cy="565.8" r="1.85"/><circle cx="479.5" cy="576.5" r="1.85"/><circle cx="480.2" cy="574" r="1.85"/><circle cx="480.2" cy="570.3" r="1.85"/><circle cx="483.2" cy="569.5" r="1.85"/><circle cx="471.5" cy="573.3" r="1.85"/><circle cx="469.7" cy="575.3" r="1.85"/><circle cx="466.4" cy="576.5" r="1.85"/><circle cx="471" cy="582.5" r="1.85"/><circle cx="468.2" cy="583.3" r="1.85"/><circle cx="465.2" cy="585" r="1.85"/><circle cx="462.2" cy="586.5" r="1.85"/><circle cx="460.2" cy="585.3" r="1.85"/><circle cx="458.4" cy="589.1" r="1.85"/><circle cx="460.7" cy="590.8" r="1.85"/><circle cx="461.4" cy="594.6" r="1.85"/><circle cx="457.2" cy="595.3" r="1.85"/><circle cx="453.9" cy="596.6" r="1.85"/><circle cx="450.7" cy="597.8" r="1.85"/><circle cx="447.2" cy="600.8" r="1.85"/><circle cx="441.4" cy="602.6" r="1.85"/><circle cx="448.2" cy="607.6" r="1.85"/><circle cx="447.7" cy="610.3" r="1.85"/><circle cx="444.6" cy="611.6" r="1.85"/><circle cx="442.6" cy="614.6" r="1.85"/><circle cx="445.2" cy="617.9" r="1.85"/><circle cx="447.7" cy="620.9" r="1.85"/><circle cx="449.7" cy="622.9" r="1.85"/><circle cx="451.4" cy="623.9" r="1.85"/><circle cx="442.6" cy="625.9" r="1.85"/><circle cx="439.6" cy="628.9" r="1.85"/><circle cx="438.1" cy="632.1" r="1.85"/><circle cx="438.9" cy="635.4" r="1.85"/><circle cx="438.1" cy="637.9" r="1.85"/><circle cx="442.6" cy="639.7" r="1.85"/><circle cx="437.1" cy="644.7" r="1.85"/><circle cx="440.9" cy="645.9" r="1.85"/><circle cx="443.4" cy="647.9" r="1.85"/><circle cx="445.9" cy="649.7" r="1.85"/><circle cx="448.4" cy="652.2" r="1.85"/><circle cx="449.4" cy="654.7" r="1.85"/><circle cx="584.7" cy="537.4" r="1.85"/><circle cx="587.9" cy="538.2" r="1.85"/><circle cx="590.9" cy="537.4" r="1.85"/><circle cx="590.9" cy="540.7" r="1.85"/><circle cx="592.2" cy="542.7" r="1.85"/><circle cx="598.5" cy="533.9" r="1.85"/><circle cx="602.2" cy="533.2" r="1.85"/><circle cx="604.7" cy="534.4" r="1.85"/><circle cx="607.2" cy="536.2" r="1.85"/><circle cx="610.5" cy="538.2" r="1.85"/><circle cx="615" cy="534.9" r="1.85"/><circle cx="616.7" cy="538.2" r="1.85"/><circle cx="618" cy="540" r="1.85"/><circle cx="616.2" cy="545" r="1.85"/><circle cx="621.8" cy="542" r="1.85"/><circle cx="623" cy="545" r="1.85"/><circle cx="624.3" cy="548.2" r="1.85"/><circle cx="628" cy="549" r="1.85"/><circle cx="621.8" cy="559" r="1.85"/><circle cx="623.5" cy="560.7" r="1.85"/><circle cx="630.5" cy="558.2" r="1.85"/><circle cx="631.3" cy="561.5" r="1.85"/><circle cx="638" cy="560" r="1.85"/><circle cx="641.3" cy="561.5" r="1.85"/><circle cx="640" cy="565.8" r="1.85"/><circle cx="645.6" cy="567" r="1.85"/><circle cx="646.3" cy="570" r="1.85"/><circle cx="646.3" cy="572.8" r="1.85"/><circle cx="639.3" cy="580" r="1.85"/><circle cx="636.3" cy="587" r="1.85"/><circle cx="622.3" cy="590.8" r="1.85"/><circle cx="643" cy="587.5" r="1.85"/><circle cx="645.1" cy="589.1" r="1.85"/><circle cx="646.8" cy="591.6" r="1.85"/><circle cx="648.1" cy="594.1" r="1.85"/><circle cx="649.8" cy="596.3" r="1.85"/><circle cx="653.8" cy="597.8" r="1.85"/><circle cx="652.6" cy="600.8" r="1.85"/><circle cx="651.3" cy="605.3" r="1.85"/><circle cx="659.3" cy="607.1" r="1.85"/><circle cx="657.6" cy="610.1" r="1.85"/><circle cx="655.1" cy="611.6" r="1.85"/><circle cx="653.1" cy="614.6" r="1.85"/><circle cx="653.1" cy="616.6" r="1.85"/><circle cx="638" cy="620.1" r="1.85"/><circle cx="641.8" cy="622.9" r="1.85"/><circle cx="654.3" cy="624.1" r="1.85"/><circle cx="645.6" cy="627.9" r="1.85"/><circle cx="648.1" cy="628.4" r="1.85"/><circle cx="650.1" cy="630.4" r="1.85"/><circle cx="652.3" cy="632.9" r="1.85"/><circle cx="645.6" cy="635.1" r="1.85"/><circle cx="643.8" cy="638.4" r="1.85"/><circle cx="643.8" cy="640.4" r="1.85"/><circle cx="653.8" cy="644.7" r="1.85"/><circle cx="650.6" cy="646.4" r="1.85"/><circle cx="647.6" cy="647.9" r="1.85"/><circle cx="646.3" cy="650.4" r="1.85"/><circle cx="645.1" cy="653.4" r="1.85"/><circle cx="643" cy="655.9" r="1.85"/><circle cx="447.7" cy="660.5" r="1.85"/><circle cx="451.2" cy="660.3" r="1.85"/><circle cx="455.2" cy="661" r="1.85"/><circle cx="451.4" cy="665" r="1.85"/><circle cx="450.2" cy="668.5" r="1.85"/><circle cx="445.9" cy="673.8" r="1.85"/><circle cx="450.2" cy="674.8" r="1.85"/><circle cx="452.2" cy="677.5" r="1.85"/><circle cx="450.9" cy="681" r="1.85"/><circle cx="456.4" cy="684.3" r="1.85"/><circle cx="452.9" cy="684.3" r="1.85"/><circle cx="448.9" cy="685.6" r="1.85"/><circle cx="473.5" cy="676.8" r="1.85"/><circle cx="479" cy="676" r="1.85"/><circle cx="479.5" cy="679.3" r="1.85"/><circle cx="480.2" cy="681.8" r="1.85"/><circle cx="484" cy="680.5" r="1.85"/><circle cx="475.2" cy="690.1" r="1.85"/><circle cx="477.7" cy="691.8" r="1.85"/><circle cx="478.2" cy="695.6" r="1.85"/><circle cx="479" cy="699.3" r="1.85"/><circle cx="477.2" cy="704.3" r="1.85"/><circle cx="478.5" cy="708.1" r="1.85"/><circle cx="482.2" cy="706.3" r="1.85"/><circle cx="489" cy="703.1" r="1.85"/><circle cx="485.2" cy="711.9" r="1.85"/><circle cx="487.2" cy="715.1" r="1.85"/><circle cx="487.2" cy="720.6" r="1.85"/><circle cx="495.3" cy="712.4" r="1.85"/><circle cx="497.8" cy="715.1" r="1.85"/><circle cx="499" cy="717.6" r="1.85"/><circle cx="506.5" cy="708.9" r="1.85"/><circle cx="511" cy="704.8" r="1.85"/><circle cx="515.3" cy="701.8" r="1.85"/><circle cx="517.3" cy="700.1" r="1.85"/><circle cx="519.8" cy="697.6" r="1.85"/><circle cx="522.1" cy="697.3" r="1.85"/><circle cx="520.3" cy="705.1" r="1.85"/><circle cx="521.6" cy="710.6" r="1.85"/><circle cx="519.8" cy="724.4" r="1.85"/><circle cx="522.1" cy="726.4" r="1.85"/><circle cx="524.8" cy="726.4" r="1.85"/><circle cx="527.3" cy="726.4" r="1.85"/><circle cx="530.3" cy="723.6" r="1.85"/><circle cx="534.8" cy="716.9" r="1.85"/><circle cx="540.3" cy="710.6" r="1.85"/><circle cx="539.1" cy="704.3" r="1.85"/><circle cx="541.6" cy="706.3" r="1.85"/><circle cx="544.8" cy="707.6" r="1.85"/><circle cx="547.4" cy="709.9" r="1.85"/><circle cx="550.4" cy="684.3" r="1.85"/><circle cx="552.9" cy="685.1" r="1.85"/><circle cx="554.6" cy="686.8" r="1.85"/><circle cx="552.1" cy="689.3" r="1.85"/><circle cx="556.6" cy="693.8" r="1.85"/><circle cx="559.6" cy="699.3" r="1.85"/><circle cx="561.6" cy="702.6" r="1.85"/><circle cx="563.4" cy="705.1" r="1.85"/><circle cx="565.4" cy="706.8" r="1.85"/><circle cx="567.9" cy="709.9" r="1.85"/><circle cx="571.2" cy="714.4" r="1.85"/><circle cx="572.4" cy="711.1" r="1.85"/><circle cx="574.2" cy="709.9" r="1.85"/><circle cx="574.2" cy="702.6" r="1.85"/><circle cx="575.9" cy="699.3" r="1.85"/><circle cx="576.7" cy="696.3" r="1.85"/><circle cx="575.9" cy="694.8" r="1.85"/><circle cx="582.9" cy="691.3" r="1.85"/><circle cx="580.4" cy="693.8" r="1.85"/><circle cx="579.7" cy="697.6" r="1.85"/><circle cx="581.2" cy="699.3" r="1.85"/><circle cx="584.7" cy="695.1" r="1.85"/><circle cx="587.2" cy="694.3" r="1.85"/><circle cx="589.9" cy="696.3" r="1.85"/><circle cx="592.4" cy="697.3" r="1.85"/><circle cx="594.9" cy="695.6" r="1.85"/><circle cx="601.2" cy="700.6" r="1.85"/><circle cx="603.7" cy="701.1" r="1.85"/><circle cx="607.5" cy="701.1" r="1.85"/><circle cx="610" cy="700.1" r="1.85"/><circle cx="610.5" cy="696.8" r="1.85"/><circle cx="612.5" cy="693.8" r="1.85"/><circle cx="616.7" cy="694.3" r="1.85"/><circle cx="618.7" cy="693.1" r="1.85"/><circle cx="621.3" cy="691.3" r="1.85"/><circle cx="622.5" cy="689.3" r="1.85"/><circle cx="624.3" cy="686.8" r="1.85"/><circle cx="625.5" cy="683.8" r="1.85"/><circle cx="626.3" cy="681" r="1.85"/><circle cx="625" cy="676.8" r="1.85"/><circle cx="625" cy="673.5" r="1.85"/><circle cx="625.5" cy="670.5" r="1.85"/><circle cx="628.8" cy="669.3" r="1.85"/><circle cx="631.8" cy="668.8" r="1.85"/><circle cx="638.5" cy="669.3" r="1.85"/><circle cx="638.8" cy="666.3" r="1.85"/><circle cx="637.5" cy="663" r="1.85"/><circle cx="638.5" cy="660" r="1.85"/><circle cx="643.8" cy="660" r="1.85"/></g><path d="M530.8 628.1L543.3 650.1L543.3 605.5M554.5 650.1L554.5 605.5L566.8 626.7" fill="none" stroke="#e6261a" stroke-width="3.5" stroke-linejoin="round" stroke-linecap="round"/><path d="M548.8 699.5L549.5 517.7" fill="none" stroke="#e6261a" stroke-width="3.1" stroke-dasharray="11 8.6"/><g font-family='"Liberation Sans", Arial, Helvetica, sans-serif' fill="#000" stroke="none" text-anchor="middle"><text transform="translate(659.1 849.6) scale(1 1.05)" font-size="29.0">Stage 7_7</text><text transform="translate(548.2 464.8) scale(1 1.06)" font-size="28.3">0</text><text transform="translate(423 507.4) scale(1 1.06)" font-size="28.3">45</text><text transform="translate(682.5 516.4) scale(1 1.06)" font-size="28.3">315</text><text transform="translate(410.6 621.6) scale(1 1.06)" font-size="28.3">90</text><text transform="translate(672.7 654) scale(1 1.06)" font-size="28.3">270</text><text transform="translate(408.8 762.5) scale(1 1.06)" font-size="28.3">135</text><text transform="translate(675.2 765.2) scale(1 1.06)" font-size="28.3">225</text><text transform="translate(548.4 810) scale(1 1.06)" font-size="28.3">180</text></g><g fill="#5294d3" stroke="#3a7bc0" stroke-width="1"><polygon points="605.2,773.1 595.8,750.5 591.4,752.3 595.9,740.3 607.7,745.5 603.4,747.3 612.8,769.9"/><polygon points="657.2,740.6 639.8,723.4 636.5,726.7 636.1,713.8 648.9,714.2 645.6,717.5 663,734.8"/><polygon points="692.7,690.9 670.1,681.5 668.3,685.9 663,674.2 675,669.6 673.2,673.9 695.9,683.2"/><polygon points="492.2,481.5 501.6,504.1 506,502.3 501.5,514.3 489.7,509.1 494,507.3 484.6,484.7"/><polygon points="440.2,514 457.6,531.2 460.9,527.9 461.3,540.8 448.5,540.4 451.8,537.1 434.4,519.8"/><polygon points="404.7,563.7 427.3,573.1 429.1,568.7 434.4,580.4 422.4,585 424.2,580.7 401.5,571.4"/><polygon points="695.1,569.5 684.3,574 685.3,576.4 678.1,574.2 681.7,567.6 682.7,570 693.5,565.6"/><polygon points="661.6,518.4 653.3,526.7 655.2,528.5 647.7,529.2 648.5,521.8 650.3,523.6 658.6,515.4"/><polygon points="611,483.9 606.5,494.7 608.9,495.7 602.3,499.2 600.1,492 602.5,493 607,482.3"/><polygon points="402.3,685.1 413.1,680.6 412.1,678.2 419.3,680.4 415.7,687 414.7,684.6 403.9,689"/><polygon points="435.8,736.2 444.1,727.9 442.2,726.1 449.7,725.4 448.9,732.8 447.1,731 438.8,739.2"/><polygon points="486.4,770.7 490.9,759.9 488.5,758.9 495.1,755.4 497.3,762.6 494.9,761.6 490.4,772.3"/></g></g><g id="plot8"><g fill="none" stroke="#bababa" stroke-width="0.9"><ellipse cx="930.4" cy="625.8" rx="22.6" ry="22.7"/><ellipse cx="930.4" cy="625.8" rx="68.3" ry="68.4"/><ellipse cx="930.4" cy="625.8" rx="113.9" ry="114.1"/><ellipse cx="930.4" cy="625.8" rx="159.5" ry="159.8"/><path d="M930.1 623.4L930.4 466M932.8 619.9L991.4 478.2M932.2 624.3L1043.2 512.8M936.6 623.7L1077.8 564.6M933.1 626.4L1089.9 625.8M936.6 629.1L1077.8 687M932.2 628.5L1043.2 738.8M932.8 632.9L991.4 773.4M930.1 629.4L930.4 785.6M927.4 632.9L869.4 773.4M928 628.5L817.6 738.8M923.6 629.1L783 687M927.1 626.4L770.9 625.8M923.6 623.7L783 564.6M928 624.3L817.6 512.8M927.4 619.9L869.4 478.2"/><circle cx="930.1" cy="626.4" r="2" fill="#c4c4c4" stroke="none"/></g><g font-family='"Liberation Sans", Arial, Helvetica, sans-serif' font-size="10" fill="#1c1a24" stroke="#1c1a24" stroke-width="0.4" text-anchor="middle"><rect x="941" y="623.9" width="22" height="8" fill="#fff" stroke="none"/><text x="952" y="632">-100</text><rect x="989.4" y="623.9" width="16.5" height="8" fill="#fff" stroke="none"/><text x="997.7" y="632">-50</text><rect x="1039.3" y="623.9" width="8" height="8" fill="#fff" stroke="none"/><text x="1043.3" y="632">0</text><text x="1088.9" y="632">50</text></g><g fill="none" stroke="#241e8c" stroke-width="1.3"><circle cx="947.9" cy="525.7" r="1.85"/><circle cx="949.1" cy="529.4" r="1.85"/><circle cx="954.2" cy="523.2" r="1.85"/><circle cx="955.9" cy="526.9" r="1.85"/><circle cx="959.9" cy="523.2" r="1.85"/><circle cx="961.2" cy="526.2" r="1.85"/><circle cx="964.7" cy="526.9" r="1.85"/><circle cx="965.4" cy="532.4" r="1.85"/><circle cx="966.7" cy="535.7" r="1.85"/><circle cx="968.7" cy="537.4" r="1.85"/><circle cx="970.4" cy="539.5" r="1.85"/><circle cx="971.2" cy="542" r="1.85"/><circle cx="972.4" cy="544" r="1.85"/><circle cx="943.4" cy="535.2" r="1.85"/><circle cx="940.4" cy="539.5" r="1.85"/><circle cx="936.6" cy="541.2" r="1.85"/><circle cx="934.6" cy="546.5" r="1.85"/><circle cx="937.9" cy="547.7" r="1.85"/><circle cx="927.1" cy="544" r="1.85"/><circle cx="930.4" cy="531.2" r="1.85"/><circle cx="930.9" cy="534.4" r="1.85"/><circle cx="917.3" cy="526.9" r="1.85"/><circle cx="915.3" cy="531.4" r="1.85"/><circle cx="920.8" cy="532.7" r="1.85"/><circle cx="924.1" cy="535.2" r="1.85"/><circle cx="892" cy="528.7" r="1.85"/><circle cx="892" cy="534.4" r="1.85"/><circle cx="897" cy="533.2" r="1.85"/><circle cx="901.1" cy="536.9" r="1.85"/><circle cx="903.6" cy="534.9" r="1.85"/><circle cx="887.8" cy="540" r="1.85"/><circle cx="891.5" cy="541.5" r="1.85"/><circle cx="908.6" cy="545.2" r="1.85"/><circle cx="912.1" cy="550.2" r="1.85"/><circle cx="917.1" cy="558.7" r="1.85"/><circle cx="918.3" cy="559.5" r="1.85"/><circle cx="859.5" cy="550.7" r="1.85"/><circle cx="864.7" cy="552" r="1.85"/><circle cx="869" cy="552.7" r="1.85"/><circle cx="873.2" cy="553.2" r="1.85"/><circle cx="879" cy="553.2" r="1.85"/><circle cx="878.5" cy="557.5" r="1.85"/><circle cx="885.3" cy="557.5" r="1.85"/><circle cx="893.5" cy="554.5" r="1.85"/><circle cx="891" cy="558.2" r="1.85"/><circle cx="894.5" cy="561.5" r="1.85"/><circle cx="892.8" cy="566.5" r="1.85"/><circle cx="856.5" cy="570.8" r="1.85"/><circle cx="859.5" cy="569" r="1.85"/><circle cx="866.5" cy="570.8" r="1.85"/><circle cx="844.4" cy="566.5" r="1.85"/><circle cx="842.7" cy="569" r="1.85"/><circle cx="843.9" cy="573.3" r="1.85"/><circle cx="844.7" cy="576.5" r="1.85"/><circle cx="842.7" cy="579.5" r="1.85"/><circle cx="835.9" cy="581.5" r="1.85"/><circle cx="839.7" cy="585.8" r="1.85"/><circle cx="838.4" cy="589.1" r="1.85"/><circle cx="839.4" cy="591.6" r="1.85"/><circle cx="833.4" cy="594.6" r="1.85"/><circle cx="827.7" cy="595.8" r="1.85"/><circle cx="821.9" cy="597.6" r="1.85"/><circle cx="815.6" cy="599.6" r="1.85"/><circle cx="820.9" cy="603.8" r="1.85"/><circle cx="818.4" cy="606.6" r="1.85"/><circle cx="815.6" cy="609.1" r="1.85"/><circle cx="815.9" cy="612.6" r="1.85"/><circle cx="817.1" cy="615.4" r="1.85"/><circle cx="822.6" cy="618.9" r="1.85"/><circle cx="824.6" cy="622.6" r="1.85"/><circle cx="818.4" cy="624.6" r="1.85"/><circle cx="813.4" cy="628.4" r="1.85"/><circle cx="814.4" cy="631.6" r="1.85"/><circle cx="814.6" cy="635.1" r="1.85"/><circle cx="817.1" cy="639.7" r="1.85"/><circle cx="812.6" cy="637.6" r="1.85"/><circle cx="812.6" cy="643.4" r="1.85"/><circle cx="815.1" cy="646.7" r="1.85"/><circle cx="818.4" cy="649.2" r="1.85"/><circle cx="822.1" cy="652.2" r="1.85"/><circle cx="820.9" cy="655.2" r="1.85"/><circle cx="979.7" cy="535.2" r="1.85"/><circle cx="983.7" cy="533.9" r="1.85"/><circle cx="986.7" cy="533.7" r="1.85"/><circle cx="991.2" cy="531.9" r="1.85"/><circle cx="994.2" cy="532.7" r="1.85"/><circle cx="1001.3" cy="529.4" r="1.85"/><circle cx="1001.3" cy="533.9" r="1.85"/><circle cx="998.7" cy="541.5" r="1.85"/><circle cx="1003.8" cy="540.7" r="1.85"/><circle cx="1003.8" cy="545.2" r="1.85"/><circle cx="1001.3" cy="552" r="1.85"/><circle cx="1006.8" cy="550.7" r="1.85"/><circle cx="1004.8" cy="557.5" r="1.85"/><circle cx="1008" cy="557.5" r="1.85"/><circle cx="1015.5" cy="554.5" r="1.85"/><circle cx="1018.8" cy="555" r="1.85"/><circle cx="1025.6" cy="554" r="1.85"/><circle cx="1030.6" cy="554.5" r="1.85"/><circle cx="1028.1" cy="560.7" r="1.85"/><circle cx="1030.6" cy="562.5" r="1.85"/><circle cx="1030.1" cy="566.5" r="1.85"/><circle cx="1030.6" cy="570" r="1.85"/><circle cx="1024.8" cy="576.5" r="1.85"/><circle cx="1024.8" cy="582.5" r="1.85"/><circle cx="1009.8" cy="587.8" r="1.85"/><circle cx="1031.3" cy="583.3" r="1.85"/><circle cx="1031.3" cy="587" r="1.85"/><circle cx="1031.3" cy="590.3" r="1.85"/><circle cx="1030.6" cy="594.6" r="1.85"/><circle cx="1031.8" cy="598.3" r="1.85"/><circle cx="1035.6" cy="600.3" r="1.85"/><circle cx="1037.3" cy="602.6" r="1.85"/><circle cx="1045.1" cy="604.6" r="1.85"/><circle cx="1051.9" cy="606.3" r="1.85"/><circle cx="1040.6" cy="610.8" r="1.85"/><circle cx="1055.1" cy="612.8" r="1.85"/><circle cx="1043.6" cy="617.1" r="1.85"/><circle cx="1025.1" cy="621.6" r="1.85"/><circle cx="1039.3" cy="623.4" r="1.85"/><circle cx="1030.6" cy="626.6" r="1.85"/><circle cx="1034.3" cy="626.6" r="1.85"/><circle cx="1037.6" cy="625.9" r="1.85"/><circle cx="1035.6" cy="629.6" r="1.85"/><circle cx="1030.1" cy="630.9" r="1.85"/><circle cx="1037.6" cy="634.1" r="1.85"/><circle cx="1035.1" cy="636.6" r="1.85"/><circle cx="1027.3" cy="636.6" r="1.85"/><circle cx="1030.6" cy="638.4" r="1.85"/><circle cx="1035.1" cy="642.9" r="1.85"/><circle cx="1032.6" cy="647.7" r="1.85"/><circle cx="1031.3" cy="651.7" r="1.85"/><circle cx="1029.3" cy="654.2" r="1.85"/><circle cx="820.9" cy="658" r="1.85"/><circle cx="818.9" cy="661.8" r="1.85"/><circle cx="826.9" cy="663" r="1.85"/><circle cx="825.9" cy="666.3" r="1.85"/><circle cx="825.2" cy="669.8" r="1.85"/><circle cx="823.4" cy="673.5" r="1.85"/><circle cx="828.2" cy="675" r="1.85"/><circle cx="830.2" cy="677.5" r="1.85"/><circle cx="830.7" cy="681" r="1.85"/><circle cx="829.4" cy="684.8" r="1.85"/><circle cx="854" cy="674.3" r="1.85"/><circle cx="855.2" cy="675" r="1.85"/><circle cx="861" cy="674.8" r="1.85"/><circle cx="862" cy="676.8" r="1.85"/><circle cx="860.2" cy="680.5" r="1.85"/><circle cx="865.7" cy="679.3" r="1.85"/><circle cx="857.7" cy="688.8" r="1.85"/><circle cx="858.5" cy="691.8" r="1.85"/><circle cx="855.2" cy="698.1" r="1.85"/><circle cx="859" cy="699.3" r="1.85"/><circle cx="859" cy="703.1" r="1.85"/><circle cx="860.7" cy="706.1" r="1.85"/><circle cx="865.7" cy="704.3" r="1.85"/><circle cx="872.2" cy="704.3" r="1.85"/><circle cx="874.5" cy="697.3" r="1.85"/><circle cx="867.2" cy="715.6" r="1.85"/><circle cx="867.2" cy="719.9" r="1.85"/><circle cx="876" cy="713.6" r="1.85"/><circle cx="879.8" cy="712.6" r="1.85"/><circle cx="883.5" cy="711.9" r="1.85"/><circle cx="890.3" cy="704.3" r="1.85"/><circle cx="895.3" cy="697.3" r="1.85"/><circle cx="899" cy="695.6" r="1.85"/><circle cx="902.3" cy="693.1" r="1.85"/><circle cx="905.3" cy="691.1" r="1.85"/><circle cx="904.1" cy="701.8" r="1.85"/><circle cx="905.3" cy="703.1" r="1.85"/><circle cx="915.3" cy="705.6" r="1.85"/><circle cx="912.8" cy="708.9" r="1.85"/><circle cx="910.3" cy="711.4" r="1.85"/><circle cx="903.6" cy="714.4" r="1.85"/><circle cx="906.6" cy="717.4" r="1.85"/><circle cx="919.1" cy="698.1" r="1.85"/><circle cx="922.3" cy="686.8" r="1.85"/><circle cx="926.6" cy="663" r="1.85"/><circle cx="931.6" cy="661" r="1.85"/><circle cx="927.9" cy="669.3" r="1.85"/><circle cx="929.1" cy="679.3" r="1.85"/><circle cx="934.1" cy="678" r="1.85"/><circle cx="935.4" cy="681" r="1.85"/><circle cx="936.6" cy="684.3" r="1.85"/><circle cx="939.9" cy="693.1" r="1.85"/><circle cx="942.4" cy="700.1" r="1.85"/><circle cx="945.4" cy="701.8" r="1.85"/><circle cx="947.9" cy="703.8" r="1.85"/><circle cx="950.4" cy="705.6" r="1.85"/><circle cx="952.4" cy="703.1" r="1.85"/><circle cx="954.7" cy="704.3" r="1.85"/><circle cx="954.9" cy="695.6" r="1.85"/><circle cx="957.4" cy="694.3" r="1.85"/><circle cx="959.9" cy="693.1" r="1.85"/><circle cx="963.7" cy="687.6" r="1.85"/><circle cx="964.2" cy="691.8" r="1.85"/><circle cx="966.7" cy="691.1" r="1.85"/><circle cx="970.4" cy="690.1" r="1.85"/><circle cx="973.7" cy="689.8" r="1.85"/><circle cx="962.4" cy="698.1" r="1.85"/><circle cx="979.7" cy="695.1" r="1.85"/><circle cx="983" cy="695.6" r="1.85"/><circle cx="987.5" cy="696.8" r="1.85"/><circle cx="991.7" cy="698.1" r="1.85"/><circle cx="995" cy="695.6" r="1.85"/><circle cx="996.2" cy="693.1" r="1.85"/><circle cx="1000" cy="695.6" r="1.85"/><circle cx="1001.3" cy="693.1" r="1.85"/><circle cx="1004.3" cy="691.3" r="1.85"/><circle cx="1006" cy="689.3" r="1.85"/><circle cx="1008" cy="688.1" r="1.85"/><circle cx="1013" cy="688.1" r="1.85"/><circle cx="1017.5" cy="688.6" r="1.85"/><circle cx="1020.5" cy="686.3" r="1.85"/><circle cx="1021.3" cy="683.1" r="1.85"/><circle cx="1022.5" cy="680" r="1.85"/><circle cx="1020.5" cy="676.8" r="1.85"/><circle cx="1024.3" cy="675" r="1.85"/><circle cx="1025.6" cy="672.3" r="1.85"/><circle cx="1026.3" cy="669.3" r="1.85"/><circle cx="1022.5" cy="665.5" r="1.85"/><circle cx="1021.3" cy="662.3" r="1.85"/><circle cx="1024.3" cy="660.5" r="1.85"/><circle cx="1030.1" cy="660" r="1.85"/></g><path d="M912.2 626.8L924.9 649.2L924.9 603.9M936.3 649.2L936.3 603.9L948.7 625.5" fill="none" stroke="#e6261a" stroke-width="3.5" stroke-linejoin="round" stroke-linecap="round"/><path d="M930.8 699.2L930.7 514.9" fill="none" stroke="#e6261a" stroke-width="3.1" stroke-dasharray="11.2 8.8"/><g font-family='"Liberation Sans", Arial, Helvetica, sans-serif' fill="#000" stroke="none" text-anchor="middle"><text transform="translate(1041.5 847.6) scale(1 1.05)" font-size="29.0">Stage 8_7</text><text transform="translate(930.4 463) scale(1 1.06)" font-size="28.3">0</text><text transform="translate(805.1 505.6) scale(1 1.06)" font-size="28.3">45</text><text transform="translate(1065 514.4) scale(1 1.06)" font-size="28.3">315</text><text transform="translate(792.8 619.6) scale(1 1.06)" font-size="28.3">90</text><text transform="translate(1055.2 652.2) scale(1 1.06)" font-size="28.3">270</text><text transform="translate(791.3 760.7) scale(1 1.06)" font-size="28.3">135</text><text transform="translate(1057.7 763.2) scale(1 1.06)" font-size="28.3">225</text><text transform="translate(931 808.3) scale(1 1.06)" font-size="28.3">180</text></g><g fill="#5294d3" stroke="#3a7bc0" stroke-width="1"><polygon points="925.7,786.3 925.7,761.5 921,761.5 929.9,752 938.8,761.5 934.1,761.5 934.1,786.3"/><polygon points="986.8,775.8 977.3,752.9 972.9,754.7 977.5,742.5 989.4,747.9 985,749.7 994.5,772.6"/><polygon points="1039.2,742.7 1021.6,725.1 1018.3,728.5 1017.9,715.5 1030.9,715.9 1027.5,719.2 1045.1,736.8"/><polygon points="934.1,468.3 934.1,493.1 938.8,493.1 929.9,502.6 921,493.1 925.7,493.1 925.7,468.3"/><polygon points="873,478.8 882.5,501.7 886.9,499.9 882.3,512.1 870.4,506.7 874.8,504.9 865.3,482"/><polygon points="820.6,511.9 838.2,529.5 841.5,526.1 841.9,539.1 828.9,538.7 832.3,535.4 814.7,517.8"/><polygon points="1090.6,629.5 1078.8,629.5 1078.8,632.1 1072.9,627.3 1078.8,622.5 1078.8,625.1 1090.6,625.1"/><polygon points="1077.3,568.5 1066.4,573 1067.4,575.4 1060.2,573.2 1063.7,566.6 1064.8,569 1075.7,564.5"/><polygon points="1043.6,516.4 1035.3,524.8 1037.1,526.6 1029.6,527.4 1030.4,519.9 1032.2,521.7 1040.6,513.3"/><polygon points="771.2,625.1 783,625.1 783,622.5 788.9,627.3 783,632.1 783,629.5 771.2,629.5"/><polygon points="782.5,686.1 793.4,681.6 792.4,679.2 799.6,681.4 796.1,688 795,685.6 784.1,690.1"/><polygon points="816.2,738.2 824.5,729.8 822.7,728 830.2,727.2 829.4,734.7 827.6,732.9 819.2,741.3"/></g></g><g id="plot9"><g fill="none" stroke="#bababa" stroke-width="0.9"><ellipse cx="1324.7" cy="624.7" rx="21.9" ry="21.9"/><ellipse cx="1324.7" cy="624.7" rx="66.1" ry="66.1"/><ellipse cx="1324.7" cy="624.7" rx="110.3" ry="110.3"/><ellipse cx="1324.7" cy="624.7" rx="154.5" ry="154.5"/><path d="M1324 621.5L1324.7 470.2M1326.7 618L1383.8 482M1326.1 622.4L1433.9 515.5M1330.5 621.8L1467.4 565.6M1327 624.5L1479.2 624.7M1330.5 627.2L1467.4 683.8M1326.1 626.6L1433.9 733.9M1326.7 631L1383.8 767.4M1324 627.5L1324.7 779.2M1321.3 631L1265.6 767.4M1321.9 626.6L1215.5 733.9M1317.5 627.2L1182 683.8M1321 624.5L1170.2 624.7M1317.5 621.8L1182 565.6M1321.9 622.4L1215.5 515.5M1321.3 618L1265.6 482"/><circle cx="1324" cy="624.5" r="2" fill="#c4c4c4" stroke="none"/></g><g font-family='"Liberation Sans", Arial, Helvetica, sans-serif' font-size="10" fill="#1c1a24" stroke="#1c1a24" stroke-width="0.4" text-anchor="middle"><rect x="1334.6" y="622" width="22" height="8" fill="#fff" stroke="none"/><text x="1345.6" y="630.1">-100</text><rect x="1381.6" y="622" width="16.5" height="8" fill="#fff" stroke="none"/><text x="1389.8" y="630.1">-50</text><rect x="1430" y="622" width="8" height="8" fill="#fff" stroke="none"/><text x="1434" y="630.1">0</text><text x="1478.2" y="630.1">50</text></g><g fill="none" stroke="#241e8c" stroke-width="1.3"><circle cx="1308.6" cy="520.7" r="1.85"/><circle cx="1311.6" cy="523.9" r="1.85"/><circle cx="1294.6" cy="525.7" r="1.85"/><circle cx="1292.8" cy="531.4" r="1.85"/><circle cx="1289.8" cy="530.7" r="1.85"/><circle cx="1287.3" cy="533.7" r="1.85"/><circle cx="1283.5" cy="540" r="1.85"/><circle cx="1289" cy="545.7" r="1.85"/><circle cx="1285.3" cy="550" r="1.85"/><circle cx="1283.5" cy="555.7" r="1.85"/><circle cx="1285.3" cy="559" r="1.85"/><circle cx="1287.8" cy="558.2" r="1.85"/><circle cx="1301.1" cy="537.7" r="1.85"/><circle cx="1305.3" cy="545.2" r="1.85"/><circle cx="1311.6" cy="550.7" r="1.85"/><circle cx="1309.1" cy="554" r="1.85"/><circle cx="1315.4" cy="533.7" r="1.85"/><circle cx="1317.9" cy="534.4" r="1.85"/><circle cx="1324.1" cy="533.2" r="1.85"/><circle cx="1320.9" cy="544.5" r="1.85"/><circle cx="1329.1" cy="552" r="1.85"/><circle cx="1333.4" cy="553.7" r="1.85"/><circle cx="1330.4" cy="558.2" r="1.85"/><circle cx="1335.4" cy="548.2" r="1.85"/><circle cx="1338.6" cy="541.5" r="1.85"/><circle cx="1340.4" cy="545.2" r="1.85"/><circle cx="1344.7" cy="534.4" r="1.85"/><circle cx="1345.9" cy="538.2" r="1.85"/><circle cx="1350.4" cy="533.7" r="1.85"/><circle cx="1353.7" cy="534.4" r="1.85"/><circle cx="1355.9" cy="535.7" r="1.85"/><circle cx="1358.4" cy="537.4" r="1.85"/><circle cx="1361.7" cy="539.5" r="1.85"/><circle cx="1359.7" cy="549.5" r="1.85"/><circle cx="1359.7" cy="554.5" r="1.85"/><circle cx="1366.2" cy="547.5" r="1.85"/><circle cx="1373" cy="539.5" r="1.85"/><circle cx="1376" cy="539" r="1.85"/><circle cx="1380.5" cy="536.9" r="1.85"/><circle cx="1382.5" cy="539" r="1.85"/><circle cx="1388.7" cy="534.9" r="1.85"/><circle cx="1390" cy="537.4" r="1.85"/><circle cx="1387.5" cy="546.5" r="1.85"/><circle cx="1393" cy="544" r="1.85"/><circle cx="1393.8" cy="548.2" r="1.85"/><circle cx="1398" cy="551.5" r="1.85"/><circle cx="1392.3" cy="554.5" r="1.85"/><circle cx="1394.3" cy="559" r="1.85"/><circle cx="1396.8" cy="560" r="1.85"/><circle cx="1405" cy="555.7" r="1.85"/><circle cx="1406.8" cy="559" r="1.85"/><circle cx="1414.3" cy="556.5" r="1.85"/><circle cx="1423.8" cy="553.2" r="1.85"/><circle cx="1418.8" cy="560.7" r="1.85"/><circle cx="1413" cy="567.8" r="1.85"/><circle cx="1413.8" cy="570.8" r="1.85"/><circle cx="1413.8" cy="574" r="1.85"/><circle cx="1406" cy="581.3" r="1.85"/><circle cx="1395.5" cy="589.1" r="1.85"/><circle cx="1421.8" cy="582.5" r="1.85"/><circle cx="1423.6" cy="585" r="1.85"/><circle cx="1423.1" cy="589.1" r="1.85"/><circle cx="1422.6" cy="592.8" r="1.85"/><circle cx="1424.8" cy="595.8" r="1.85"/><circle cx="1431.1" cy="597.1" r="1.85"/><circle cx="1432.3" cy="600.8" r="1.85"/><circle cx="1437.3" cy="603.3" r="1.85"/><circle cx="1441.4" cy="604.6" r="1.85"/><circle cx="1441.4" cy="608.3" r="1.85"/><circle cx="1439.3" cy="612.1" r="1.85"/><circle cx="1429.8" cy="615.4" r="1.85"/><circle cx="1428.1" cy="617.9" r="1.85"/><circle cx="1426.8" cy="620.9" r="1.85"/><circle cx="1423.1" cy="624.6" r="1.85"/><circle cx="1424.8" cy="629.6" r="1.85"/><circle cx="1427.6" cy="634.1" r="1.85"/><circle cx="1427.6" cy="638.4" r="1.85"/><circle cx="1434.3" cy="641.7" r="1.85"/><circle cx="1431.8" cy="645.4" r="1.85"/><circle cx="1429.8" cy="647.2" r="1.85"/><circle cx="1425.6" cy="649.2" r="1.85"/><circle cx="1419.3" cy="650.4" r="1.85"/><circle cx="1416.8" cy="652.9" r="1.85"/><circle cx="1415.1" cy="655.2" r="1.85"/><circle cx="1410" cy="655.9" r="1.85"/><circle cx="1254" cy="546.5" r="1.85"/><circle cx="1255.7" cy="545.7" r="1.85"/><circle cx="1261.5" cy="547.7" r="1.85"/><circle cx="1265.3" cy="548.7" r="1.85"/><circle cx="1268.3" cy="549.5" r="1.85"/><circle cx="1269.8" cy="545.7" r="1.85"/><circle cx="1272.8" cy="546.2" r="1.85"/><circle cx="1245.2" cy="562.5" r="1.85"/><circle cx="1249.5" cy="562.7" r="1.85"/><circle cx="1254" cy="562.7" r="1.85"/><circle cx="1246.5" cy="566.5" r="1.85"/><circle cx="1237.7" cy="562.7" r="1.85"/><circle cx="1237.2" cy="566.5" r="1.85"/><circle cx="1236.9" cy="570.3" r="1.85"/><circle cx="1238.4" cy="574.5" r="1.85"/><circle cx="1236.4" cy="576.5" r="1.85"/><circle cx="1233.9" cy="577.5" r="1.85"/><circle cx="1231.4" cy="579.5" r="1.85"/><circle cx="1233.9" cy="585" r="1.85"/><circle cx="1230.2" cy="585.8" r="1.85"/><circle cx="1226.9" cy="587" r="1.85"/><circle cx="1223.9" cy="588.3" r="1.85"/><circle cx="1223.4" cy="592.1" r="1.85"/><circle cx="1223.9" cy="595.3" r="1.85"/><circle cx="1215.9" cy="595.8" r="1.85"/><circle cx="1211.4" cy="597.1" r="1.85"/><circle cx="1213.9" cy="600.8" r="1.85"/><circle cx="1212.6" cy="604.1" r="1.85"/><circle cx="1208.9" cy="605.8" r="1.85"/><circle cx="1207.1" cy="609.6" r="1.85"/><circle cx="1210.9" cy="614.1" r="1.85"/><circle cx="1217.2" cy="616.6" r="1.85"/><circle cx="1218.4" cy="619.6" r="1.85"/><circle cx="1214.4" cy="622.9" r="1.85"/><circle cx="1206.4" cy="625.9" r="1.85"/><circle cx="1208.4" cy="629.6" r="1.85"/><circle cx="1209.6" cy="632.1" r="1.85"/><circle cx="1211.4" cy="634.6" r="1.85"/><circle cx="1212.6" cy="637.6" r="1.85"/><circle cx="1207.6" cy="641.7" r="1.85"/><circle cx="1210.1" cy="643.4" r="1.85"/><circle cx="1211.9" cy="647.2" r="1.85"/><circle cx="1219.4" cy="649.2" r="1.85"/><circle cx="1217.2" cy="652.2" r="1.85"/><circle cx="1215.2" cy="654.7" r="1.85"/><circle cx="1322.1" cy="644.2" r="1.85"/><circle cx="1322.1" cy="650.9" r="1.85"/><circle cx="1324.1" cy="655.9" r="1.85"/><circle cx="1214.4" cy="660" r="1.85"/><circle cx="1219.4" cy="661" r="1.85"/><circle cx="1217.7" cy="664.3" r="1.85"/><circle cx="1218.2" cy="668" r="1.85"/><circle cx="1218.2" cy="671" r="1.85"/><circle cx="1222.2" cy="673" r="1.85"/><circle cx="1223.9" cy="675.5" r="1.85"/><circle cx="1233.2" cy="673.5" r="1.85"/><circle cx="1234.7" cy="676" r="1.85"/><circle cx="1251.5" cy="671.8" r="1.85"/><circle cx="1243.5" cy="674.8" r="1.85"/><circle cx="1247.7" cy="677.5" r="1.85"/><circle cx="1246.5" cy="681.3" r="1.85"/><circle cx="1249.5" cy="682.5" r="1.85"/><circle cx="1256" cy="681" r="1.85"/><circle cx="1249.5" cy="688.8" r="1.85"/><circle cx="1250.2" cy="692.3" r="1.85"/><circle cx="1248.5" cy="696.8" r="1.85"/><circle cx="1250.2" cy="699.3" r="1.85"/><circle cx="1253.5" cy="700.6" r="1.85"/><circle cx="1254.7" cy="703.8" r="1.85"/><circle cx="1257" cy="704.8" r="1.85"/><circle cx="1265.3" cy="699.3" r="1.85"/><circle cx="1264.7" cy="704.3" r="1.85"/><circle cx="1267.8" cy="702.3" r="1.85"/><circle cx="1270.8" cy="704.8" r="1.85"/><circle cx="1276" cy="701.1" r="1.85"/><circle cx="1278.5" cy="700.6" r="1.85"/><circle cx="1283.3" cy="698.1" r="1.85"/><circle cx="1288.3" cy="694.3" r="1.85"/><circle cx="1294.6" cy="686.8" r="1.85"/><circle cx="1296.6" cy="686.3" r="1.85"/><circle cx="1299.1" cy="684.8" r="1.85"/><circle cx="1302.1" cy="681.8" r="1.85"/><circle cx="1300.3" cy="691.3" r="1.85"/><circle cx="1302.3" cy="690.6" r="1.85"/><circle cx="1302.8" cy="697.3" r="1.85"/><circle cx="1308.3" cy="698.1" r="1.85"/><circle cx="1305.8" cy="702.6" r="1.85"/><circle cx="1302.8" cy="703.8" r="1.85"/><circle cx="1311.6" cy="694.3" r="1.85"/><circle cx="1314.6" cy="686.8" r="1.85"/><circle cx="1318.4" cy="672.3" r="1.85"/><circle cx="1324.1" cy="660.5" r="1.85"/><circle cx="1325.9" cy="661.8" r="1.85"/><circle cx="1328.4" cy="682.3" r="1.85"/><circle cx="1329.6" cy="688.6" r="1.85"/><circle cx="1332.4" cy="689.3" r="1.85"/><circle cx="1334.9" cy="697.3" r="1.85"/><circle cx="1337.9" cy="703.8" r="1.85"/><circle cx="1340.4" cy="706.3" r="1.85"/><circle cx="1342.9" cy="708.1" r="1.85"/><circle cx="1345.4" cy="709.4" r="1.85"/><circle cx="1347.4" cy="706.3" r="1.85"/><circle cx="1348.4" cy="704.8" r="1.85"/><circle cx="1351.2" cy="708.9" r="1.85"/><circle cx="1351.2" cy="694.8" r="1.85"/><circle cx="1352.4" cy="693.8" r="1.85"/><circle cx="1349.9" cy="698.8" r="1.85"/><circle cx="1359.9" cy="690.6" r="1.85"/><circle cx="1360.4" cy="695.6" r="1.85"/><circle cx="1358.7" cy="698.1" r="1.85"/><circle cx="1357.4" cy="700.1" r="1.85"/><circle cx="1364.9" cy="694.8" r="1.85"/><circle cx="1368" cy="695.6" r="1.85"/><circle cx="1374.7" cy="702.3" r="1.85"/><circle cx="1378" cy="702.6" r="1.85"/><circle cx="1383" cy="705.6" r="1.85"/><circle cx="1384.2" cy="703.1" r="1.85"/><circle cx="1386.7" cy="701.8" r="1.85"/><circle cx="1389.7" cy="700.1" r="1.85"/><circle cx="1390.5" cy="697.3" r="1.85"/><circle cx="1388.5" cy="691.3" r="1.85"/><circle cx="1391.8" cy="690.6" r="1.85"/><circle cx="1395" cy="690.6" r="1.85"/><circle cx="1400.5" cy="691.3" r="1.85"/><circle cx="1403" cy="689.3" r="1.85"/><circle cx="1403.8" cy="687.6" r="1.85"/><circle cx="1407.5" cy="686.8" r="1.85"/><circle cx="1410.5" cy="686.3" r="1.85"/><circle cx="1413" cy="686.3" r="1.85"/><circle cx="1415.6" cy="684.3" r="1.85"/><circle cx="1418.1" cy="682.3" r="1.85"/><circle cx="1419.3" cy="680.5" r="1.85"/><circle cx="1416.3" cy="675.5" r="1.85"/><circle cx="1418.1" cy="673.8" r="1.85"/><circle cx="1423.1" cy="673" r="1.85"/><circle cx="1413.8" cy="665" r="1.85"/><circle cx="1413" cy="661.8" r="1.85"/></g><path d="M1306.7 624.6L1319 646.4L1319 602.4M1330 646.4L1330 602.4L1342.2 623.4" fill="none" stroke="#e6261a" stroke-width="3.4" stroke-linejoin="round" stroke-linecap="round"/><path d="M1324.8 694.6L1324.8 516.4" fill="none" stroke="#e6261a" stroke-width="3.1" stroke-dasharray="10.9 8.5"/><g font-family='"Liberation Sans", Arial, Helvetica, sans-serif' fill="#000" stroke="none" text-anchor="middle"><text transform="translate(1435.8 847.6) scale(1 1.05)" font-size="29.0">Stage 9_7</text><text transform="translate(1325 463) scale(1 1.06)" font-size="28.3">0</text><text transform="translate(1199.7 505.6) scale(1 1.06)" font-size="28.3">45</text><text transform="translate(1459.5 514.4) scale(1 1.06)" font-size="28.3">315</text><text transform="translate(1187.3 619.6) scale(1 1.06)" font-size="28.3">90</text><text transform="translate(1185.6 760.7) scale(1 1.06)" font-size="28.3">135</text><text transform="translate(1452.3 763.2) scale(1 1.06)" font-size="28.3">225</text><text transform="translate(1325.4 808.3) scale(1 1.06)" font-size="28.3">180</text></g><g fill="#5294d3" stroke="#3a7bc0" stroke-width="1"><polygon points="1387.8,485.5 1378.5,507.6 1382.8,509.4 1371.3,514.5 1366.9,502.7 1371.1,504.5 1380.4,482.3"/><polygon points="1328.7,472.2 1328.7,496.2 1333.3,496.2 1324.7,505.4 1316.1,496.2 1320.7,496.2 1320.7,472.2"/><polygon points="1269,482.3 1278.3,504.5 1282.5,502.7 1278.1,514.5 1266.6,509.4 1270.9,507.6 1261.6,485.5"/><polygon points="1261.6,766.3 1270.9,744.2 1266.6,742.4 1278.1,737.3 1282.5,749.1 1278.3,747.3 1269,769.5"/><polygon points="1320.7,779.6 1320.7,755.6 1316.1,755.6 1324.7,746.4 1333.3,755.6 1328.7,755.6 1328.7,779.6"/><polygon points="1380.4,769.5 1371.1,747.3 1366.9,749.1 1371.3,737.3 1382.8,742.4 1378.5,744.2 1387.8,766.3"/><polygon points="1182.1,565.1 1192.7,569.5 1193.7,567.1 1197.2,573.6 1190.2,575.7 1191.1,573.4 1180.5,569"/><polygon points="1169.5,623.8 1181,623.8 1181,621.3 1186.6,625.9 1181,630.5 1181,628 1169.5,628"/><polygon points="1180.5,682.8 1191.1,678.4 1190.2,676.1 1197.2,678.2 1193.7,684.7 1192.7,682.3 1182.1,686.7"/><polygon points="1467.3,686.7 1456.7,682.3 1455.7,684.7 1452.2,678.2 1459.2,676.1 1458.3,678.4 1468.9,682.8"/><polygon points="1479.9,628 1468.4,628 1468.4,630.5 1462.8,625.9 1468.4,621.3 1468.4,623.8 1479.9,623.8"/><polygon points="1468.9,569 1458.3,573.4 1459.2,575.7 1452.2,573.6 1455.7,567.1 1456.7,569.5 1467.3,565.1"/></g></g><path d="M329 94.3H351M695.4 93.7H715.2M1840 97.5H1860" stroke="#e4e4e4" stroke-width="1.2" fill="none"/><path d="M1475.7 89.8H1496.9" stroke="#8c8c8c" stroke-width="1.4" fill="none"/><g id="legend" font-family='"Liberation Sans", Arial, Helvetica, sans-serif' fill="#000" stroke="none" font-size="28.5"><text transform="translate(1581 500.6) scale(1 1.03)">Strain x 10<tspan dy="-11.6" dx="1.2">-6</tspan></text><path d="M1575 507.4H1736" stroke="#000" stroke-width="2" fill="none"/><text transform="translate(1634 543.4) scale(1 1.05)">+50</text><text transform="translate(1636 603.3) scale(1 1.05)">0</text><text transform="translate(1631 668.8) scale(1 1.05)">-50</text><text transform="translate(1623 721.6) scale(1 1.05)">-100</text><path d="M1472.9 580.3L1612 540.2M1435.7 611.3L1612.5 590M1393 631.5L1607.7 641.9M1336.7 645.5L1607.7 706" stroke="#000" stroke-width="1.9" fill="none"/></g></svg>
</body></html>
